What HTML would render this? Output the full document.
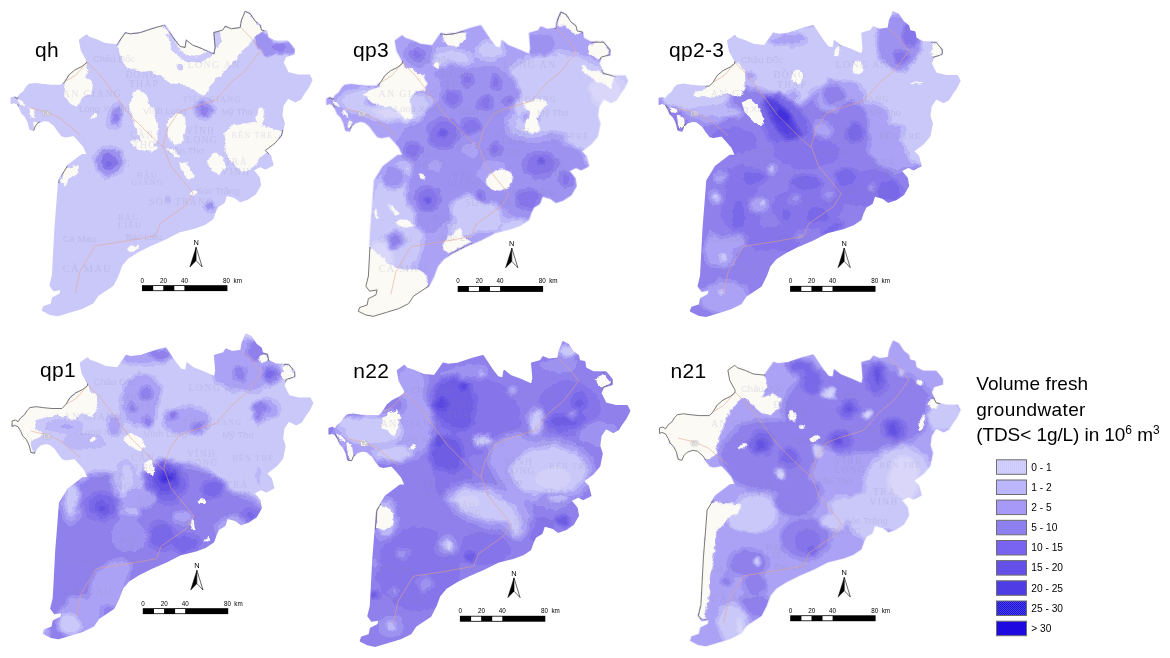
<!DOCTYPE html>
<html><head><meta charset="utf-8"><title>Volume fresh groundwater</title>
<style>html,body{margin:0;padding:0;background:#fff;}svg{display:block;}</style></head>
<body>
<svg width="1170" height="658" viewBox="0 0 1170 658" font-family="'Liberation Sans', sans-serif">
<defs>
<clipPath id="clip"><path d="M11.3,97.9 L14.6,97.0 L17.3,98.7 L20.0,94.7 L23.7,91.9 L26.4,87.4 L29.2,84.6 L35.5,83.7 L41.9,84.6 L51.0,85.5 L61.1,85.5 L64.7,81.9 L69.3,74.6 L74.8,70.0 L82.0,66.4 L86.6,62.7 L87.0,60.2 L81.5,50.2 L79.7,40.1 L86.5,35.1 L89.0,37.6 L96.5,40.1 L105.3,43.9 L116.6,45.1 L125.4,32.6 L130.4,33.9 L140.4,32.6 L155.5,27.6 L165.0,25.1 L170.0,32.6 L175.0,40.1 L180.0,46.4 L185.1,47.6 L186.3,40.1 L192.6,45.1 L202.6,48.9 L213.9,53.9 L215.2,47.6 L213.9,32.6 L222.7,30.1 L225.2,26.3 L231.4,28.8 L240.2,27.6 L241.5,20.1 L245.2,11.3 L250.3,13.8 L255.3,21.3 L260.3,25.1 L261.5,30.1 L266.6,31.3 L267.8,37.6 L275.3,41.4 L287.9,41.4 L294.1,48.9 L294.1,53.9 L285.4,56.4 L282.9,62.7 L287.9,72.7 L297.9,75.2 L309.2,75.2 L311.7,80.2 L307.9,87.8 L304.2,92.8 L300.4,99.0 L295.4,101.6 L287.9,97.8 L282.9,105.3 L281.6,115.3 L284.1,122.9 L281.6,135.4 L275.3,142.9 L265.3,150.5 L270.3,155.5 L272.8,165.0 L265.3,168.8 L260.3,166.3 L252.8,170.0 L259.0,177.5 L260.3,185.1 L255.3,193.8 L247.7,198.9 L240.2,201.4 L235.2,197.6 L226.4,195.1 L223.9,202.6 L217.7,206.4 L215.2,211.4 L212.6,218.9 L205.1,223.9 L195.1,227.7 L180.0,231.4 L165.0,239.0 L150.5,245.2 L137.9,251.5 L127.9,257.8 L121.6,265.3 L117.9,275.3 L112.8,285.4 L105.3,290.4 L97.8,295.4 L92.8,302.9 L82.7,307.9 L70.2,311.7 L57.7,315.5 L50.2,314.2 L42.6,310.4 L43.9,306.7 L51.4,304.2 L52.7,297.9 L60.2,294.1 L61.4,289.1 L53.9,290.4 L50.2,285.4 L52.7,275.3 L53.9,252.8 L55.2,227.7 L57.2,202.6 L58.9,180.0 L62.0,174.9 L67.5,165.8 L74.8,160.3 L82.0,154.8 L87.5,154.8 L83.9,146.6 L78.4,140.2 L73.8,135.1 L65.6,136.6 L62.0,135.7 L58.3,131.1 L54.7,125.7 L49.2,121.1 L44.7,120.2 L39.2,122.0 L35.5,125.7 L33.7,130.2 L30.1,129.3 L28.2,122.0 L25.5,116.5 L21.9,112.9 L20.0,108.3 L17.3,103.8 L13.7,102.3 L11.3,103.4Z"/></clipPath>
<mask id="mk" maskUnits="userSpaceOnUse" x="-10" y="-10" width="350" height="350"><path d="M11.3,97.9 L14.6,97.0 L17.3,98.7 L20.0,94.7 L23.7,91.9 L26.4,87.4 L29.2,84.6 L35.5,83.7 L41.9,84.6 L51.0,85.5 L61.1,85.5 L64.7,81.9 L69.3,74.6 L74.8,70.0 L82.0,66.4 L86.6,62.7 L87.0,60.2 L81.5,50.2 L79.7,40.1 L86.5,35.1 L89.0,37.6 L96.5,40.1 L105.3,43.9 L116.6,45.1 L125.4,32.6 L130.4,33.9 L140.4,32.6 L155.5,27.6 L165.0,25.1 L170.0,32.6 L175.0,40.1 L180.0,46.4 L185.1,47.6 L186.3,40.1 L192.6,45.1 L202.6,48.9 L213.9,53.9 L215.2,47.6 L213.9,32.6 L222.7,30.1 L225.2,26.3 L231.4,28.8 L240.2,27.6 L241.5,20.1 L245.2,11.3 L250.3,13.8 L255.3,21.3 L260.3,25.1 L261.5,30.1 L266.6,31.3 L267.8,37.6 L275.3,41.4 L287.9,41.4 L294.1,48.9 L294.1,53.9 L285.4,56.4 L282.9,62.7 L287.9,72.7 L297.9,75.2 L309.2,75.2 L311.7,80.2 L307.9,87.8 L304.2,92.8 L300.4,99.0 L295.4,101.6 L287.9,97.8 L282.9,105.3 L281.6,115.3 L284.1,122.9 L281.6,135.4 L275.3,142.9 L265.3,150.5 L270.3,155.5 L272.8,165.0 L265.3,168.8 L260.3,166.3 L252.8,170.0 L259.0,177.5 L260.3,185.1 L255.3,193.8 L247.7,198.9 L240.2,201.4 L235.2,197.6 L226.4,195.1 L223.9,202.6 L217.7,206.4 L215.2,211.4 L212.6,218.9 L205.1,223.9 L195.1,227.7 L180.0,231.4 L165.0,239.0 L150.5,245.2 L137.9,251.5 L127.9,257.8 L121.6,265.3 L117.9,275.3 L112.8,285.4 L105.3,290.4 L97.8,295.4 L92.8,302.9 L82.7,307.9 L70.2,311.7 L57.7,315.5 L50.2,314.2 L42.6,310.4 L43.9,306.7 L51.4,304.2 L52.7,297.9 L60.2,294.1 L61.4,289.1 L53.9,290.4 L50.2,285.4 L52.7,275.3 L53.9,252.8 L55.2,227.7 L57.2,202.6 L58.9,180.0 L62.0,174.9 L67.5,165.8 L74.8,160.3 L82.0,154.8 L87.5,154.8 L83.9,146.6 L78.4,140.2 L73.8,135.1 L65.6,136.6 L62.0,135.7 L58.3,131.1 L54.7,125.7 L49.2,121.1 L44.7,120.2 L39.2,122.0 L35.5,125.7 L33.7,130.2 L30.1,129.3 L28.2,122.0 L25.5,116.5 L21.9,112.9 L20.0,108.3 L17.3,103.8 L13.7,102.3 L11.3,103.4Z" fill="#fff" stroke="#fff" stroke-width="1.6" stroke-linejoin="round"/></mask>
<filter id="b0.5" filterUnits="userSpaceOnUse" x="-20" y="-20" width="370" height="370" color-interpolation-filters="sRGB"><feGaussianBlur stdDeviation="0.5"/></filter>
<filter id="b1" filterUnits="userSpaceOnUse" x="-20" y="-20" width="370" height="370" color-interpolation-filters="sRGB"><feGaussianBlur stdDeviation="1"/></filter>
<filter id="b1.5" filterUnits="userSpaceOnUse" x="-20" y="-20" width="370" height="370" color-interpolation-filters="sRGB"><feGaussianBlur stdDeviation="1.5"/></filter>
<filter id="b2" filterUnits="userSpaceOnUse" x="-20" y="-20" width="370" height="370" color-interpolation-filters="sRGB"><feGaussianBlur stdDeviation="2"/></filter>
<filter id="b2.5" filterUnits="userSpaceOnUse" x="-20" y="-20" width="370" height="370" color-interpolation-filters="sRGB"><feGaussianBlur stdDeviation="2.5"/></filter>
<filter id="b3" filterUnits="userSpaceOnUse" x="-20" y="-20" width="370" height="370" color-interpolation-filters="sRGB"><feGaussianBlur stdDeviation="3"/></filter>
<filter id="b4" filterUnits="userSpaceOnUse" x="-20" y="-20" width="370" height="370" color-interpolation-filters="sRGB"><feGaussianBlur stdDeviation="4"/></filter>
<filter id="b5" filterUnits="userSpaceOnUse" x="-20" y="-20" width="370" height="370" color-interpolation-filters="sRGB"><feGaussianBlur stdDeviation="5"/></filter>
<filter id="b6" filterUnits="userSpaceOnUse" x="-20" y="-20" width="370" height="370" color-interpolation-filters="sRGB"><feGaussianBlur stdDeviation="6"/></filter>
<filter id="b8" filterUnits="userSpaceOnUse" x="-20" y="-20" width="370" height="370" color-interpolation-filters="sRGB"><feGaussianBlur stdDeviation="8"/></filter>
<filter id="b10" filterUnits="userSpaceOnUse" x="-20" y="-20" width="370" height="370" color-interpolation-filters="sRGB"><feGaussianBlur stdDeviation="10"/></filter>
<filter id="post" filterUnits="userSpaceOnUse" x="0" y="0" width="330" height="330" color-interpolation-filters="sRGB"><feTurbulence type="fractalNoise" baseFrequency="0.09" numOctaves="3" seed="3" result="n"/><feDisplacementMap in="SourceGraphic" in2="n" scale="7" xChannelSelector="R" yChannelSelector="G" result="d"/><feComponentTransfer in="d"><feFuncR type="discrete" tableValues="0.851 0.824 0.796 0.741 0.675 0.616 0.561 0.522 0.478 0.439 0.396 0.357 0.322 0.286 0.251 0.208 0.165 0.133"/><feFuncG type="discrete" tableValues="0.843 0.816 0.788 0.722 0.639 0.573 0.502 0.455 0.408 0.369 0.325 0.286 0.251 0.220 0.188 0.153 0.118 0.086"/><feFuncB type="discrete" tableValues="0.984 0.980 0.976 0.973 0.961 0.945 0.925 0.918 0.906 0.898 0.890 0.882 0.875 0.867 0.863 0.855 0.847 0.831"/></feComponentTransfer></filter>
<filter id="jag" filterUnits="userSpaceOnUse" x="0" y="0" width="330" height="330" color-interpolation-filters="sRGB"><feTurbulence type="fractalNoise" baseFrequency="0.15" numOctaves="3" seed="7" result="n"/><feDisplacementMap in="SourceGraphic" in2="n" scale="5" xChannelSelector="R" yChannelSelector="G"/></filter>
<pattern id="dots" width="2" height="2" patternUnits="userSpaceOnUse"><rect width="2" height="2" fill="#4a40e6"/><rect width="1" height="1" fill="#1c14d8"/><rect x="1" y="1" width="1" height="1" fill="#1c14d8"/></pattern>
<pattern id="vs" width="2" height="2" patternUnits="userSpaceOnUse"><rect width="2" height="2" fill="#d4d1fc"/><rect width="1" height="2" fill="#cbc8fb"/></pattern>
</defs>
<g transform="translate(0,0)">
<path d="M11.3,97.9 L14.6,97.0 L17.3,98.7 L20.0,94.7 L23.7,91.9 L26.4,87.4 L29.2,84.6 L35.5,83.7 L41.9,84.6 L51.0,85.5 L61.1,85.5 L64.7,81.9 L69.3,74.6 L74.8,70.0 L82.0,66.4 L86.6,62.7 L87.0,60.2 L81.5,50.2 L79.7,40.1 L86.5,35.1 L89.0,37.6 L96.5,40.1 L105.3,43.9 L116.6,45.1 L125.4,32.6 L130.4,33.9 L140.4,32.6 L155.5,27.6 L165.0,25.1 L170.0,32.6 L175.0,40.1 L180.0,46.4 L185.1,47.6 L186.3,40.1 L192.6,45.1 L202.6,48.9 L213.9,53.9 L215.2,47.6 L213.9,32.6 L222.7,30.1 L225.2,26.3 L231.4,28.8 L240.2,27.6 L241.5,20.1 L245.2,11.3 L250.3,13.8 L255.3,21.3 L260.3,25.1 L261.5,30.1 L266.6,31.3 L267.8,37.6 L275.3,41.4 L287.9,41.4 L294.1,48.9 L294.1,53.9 L285.4,56.4 L282.9,62.7 L287.9,72.7 L297.9,75.2 L309.2,75.2 L311.7,80.2 L307.9,87.8 L304.2,92.8 L300.4,99.0 L295.4,101.6 L287.9,97.8 L282.9,105.3 L281.6,115.3 L284.1,122.9 L281.6,135.4 L275.3,142.9 L265.3,150.5 L270.3,155.5 L272.8,165.0 L265.3,168.8 L260.3,166.3 L252.8,170.0 L259.0,177.5 L260.3,185.1 L255.3,193.8 L247.7,198.9 L240.2,201.4 L235.2,197.6 L226.4,195.1 L223.9,202.6 L217.7,206.4 L215.2,211.4 L212.6,218.9 L205.1,223.9 L195.1,227.7 L180.0,231.4 L165.0,239.0 L150.5,245.2 L137.9,251.5 L127.9,257.8 L121.6,265.3 L117.9,275.3 L112.8,285.4 L105.3,290.4 L97.8,295.4 L92.8,302.9 L82.7,307.9 L70.2,311.7 L57.7,315.5 L50.2,314.2 L42.6,310.4 L43.9,306.7 L51.4,304.2 L52.7,297.9 L60.2,294.1 L61.4,289.1 L53.9,290.4 L50.2,285.4 L52.7,275.3 L53.9,252.8 L55.2,227.7 L57.2,202.6 L58.9,180.0 L62.0,174.9 L67.5,165.8 L74.8,160.3 L82.0,154.8 L87.5,154.8 L83.9,146.6 L78.4,140.2 L73.8,135.1 L65.6,136.6 L62.0,135.7 L58.3,131.1 L54.7,125.7 L49.2,121.1 L44.7,120.2 L39.2,122.0 L35.5,125.7 L33.7,130.2 L30.1,129.3 L28.2,122.0 L25.5,116.5 L21.9,112.9 L20.0,108.3 L17.3,103.8 L13.7,102.3 L11.3,103.4Z" fill="#fbfaf5" stroke="none"/>
<g mask="url(#mk)">
<g filter="url(#post)">
<g fill="rgb(35,35,35)">
<path d="M0.0,0.0 L330.0,0.0 L330.0,330.0 L0.0,330.0Z"/>
</g>
<g fill="rgb(50,50,50)" filter="url(#b1.5)">
<ellipse cx="205" cy="109" rx="12" ry="12"/>
<ellipse cx="115" cy="116" rx="9" ry="15" transform="rotate(15 115 116)"/>
<ellipse cx="109" cy="162" rx="17" ry="17"/>
<ellipse cx="210" cy="206" rx="7" ry="7"/>
<ellipse cx="168" cy="199" rx="4" ry="4"/>
</g>
<g fill="rgb(78,78,78)" filter="url(#b1)">
<path d="M255.5,35.1 L260.9,33.0 L267.2,34.0 L272.6,39.4 L274.7,42.6 L281.1,42.6 L289.6,41.0 L294.9,51.1 L290.6,55.3 L285.3,53.2 L276.8,54.3 L270.4,56.4 L264.0,57.4 L259.8,51.1 L255.5,44.7Z"/>
<ellipse cx="205" cy="110" rx="8" ry="8"/>
<ellipse cx="116" cy="117" rx="5" ry="10" transform="rotate(15 116 117)"/>
<ellipse cx="109" cy="162" rx="13" ry="13"/>
<ellipse cx="210" cy="206" rx="4" ry="4"/>
</g>
<g fill="rgb(92,92,92)" filter="url(#b1)">
<ellipse cx="278" cy="47" rx="7" ry="4"/>
<ellipse cx="205" cy="111" rx="4" ry="4"/>
<ellipse cx="116" cy="118" rx="2.5" ry="5" transform="rotate(15 116 118)"/>
</g>
<g fill="rgb(106,106,106)" filter="url(#b1.2)">
<ellipse cx="109" cy="162" rx="8" ry="8"/>
</g>
<g fill="rgb(120,120,120)" filter="url(#b1)">
<ellipse cx="109" cy="163" rx="3.5" ry="3.5"/>
</g>
</g>
<g fill="#fbfaf5" filter="url(#jag)">
<path d="M117.1,46.5 L124.1,33.9 L141.0,32.4 L162.2,24.8 L169.3,32.4 L176.3,42.3 L184.8,46.5 L187.6,39.5 L194.6,45.1 L205.9,50.8 L215.0,54.2 L215.0,46.5 L210.2,31.6 L222.8,27.6 L239.8,27.6 L245.4,9.9 L255.3,20.3 L262.9,31.0 L253.9,37.2 L248.2,46.5 L239.8,53.6 L234.1,60.6 L225.7,70.5 L217.2,77.6 L210.2,86.0 L204.5,95.9 L194.6,91.7 L183.4,84.6 L169.3,83.2 L162.2,76.2 L152.3,71.9 L138.2,70.5 L126.9,67.7 L121.9,60.6Z"/>
<path d="M132.6,93.1 L138.2,88.9 L146.7,95.9 L153.7,110.0 L158.0,124.1 L157.4,141.0 L150.9,148.1 L141.0,139.6 L134.0,124.1 L130.3,107.2Z"/>
<path d="M169.3,118.5 L176.3,112.8 L184.8,115.7 L186.2,126.9 L183.4,141.0 L174.9,146.7 L167.8,135.4 L166.4,124.1Z"/>
<path d="M224.3,132.6 L234.1,124.1 L253.9,122.7 L270.8,128.3 L282.1,131.2 L279.3,141.0 L270.8,149.5 L259.5,158.0 L253.9,166.4 L242.6,172.1 L234.1,166.4 L225.7,152.3Z"/>
<ellipse cx="260.1" cy="117.1" rx="4.2" ry="9.6" transform="rotate(10 260.1 117.1)"/>
<ellipse cx="94.5" cy="116.2" rx="2.8" ry="2.0" transform="rotate(-20 94.5 116.2)"/>
<path d="M64.9,83.2 L70.0,70.5 L84.6,62.1 L88.6,70.5 L84.6,76.7 L93.1,81.8 L91.7,93.1 L81.8,98.7 L76.2,107.2 L69.1,101.6 L63.5,93.1Z"/>
<path d="M28.2,107.2 L33.9,109.4 L35.5,118.5 L29.9,117.1Z"/>
<path d="M33.3,121.3 L38.9,123.0 L38.1,130.3 L33.9,129.8Z"/>
<path d="M17.5,98.7 L23.1,101.6 L25.4,106.6 L20.3,104.9Z"/>
<path d="M64.3,168.2 L79.0,165.4 L77.6,172.4 L69.1,178.1 L64.3,185.7 L60.6,182.3Z"/>
<path d="M207.3,159.7 L214.4,151.3 L222.8,156.9 L225.7,166.8 L220.0,174.4 L211.6,171.0Z"/>
<path d="M179.1,162.6 L186.2,161.2 L194.6,176.7 L189.0,179.5 L181.9,171.0Z"/>
<path d="M166.4,148.5 L172.1,147.9 L180.5,156.9 L176.3,158.1Z"/>
<ellipse cx="193.5" cy="192.5" rx="2.8" ry="2.0" transform="rotate(0 193.5 192.5)"/>
<path d="M128.3,248.6 L132.0,244.9 L134.8,247.2 L137.7,242.7 L138.8,247.2 L134.0,251.7 L129.2,251.7Z"/>
<path d="M130.3,140.0 L146.7,141.4 L158.0,148.5 L152.3,151.8 L141.0,150.2 L132.6,145.6Z"/>
</g>
<g fill="#cbc9f9" filter="url(#jag)">
<path d="M166.4,33.9 L172.1,33.3 L176.3,45.1 L183.4,53.6 L197.5,56.4 L211.6,49.4 L214.4,55.0 L200.3,62.6 L183.4,60.9 L174.9,53.6 L169.3,45.1Z"/>
<path d="M209.3,32.4 L218.6,29.6 L222.8,39.5 L217.2,48.0 L211.6,45.1Z"/>
<ellipse cx="179.7" cy="67.1" rx="3.4" ry="3.4" transform="rotate(0 179.7 67.1)"/>
</g>
<g fill="none" stroke="#e6a48c" stroke-width="0.8" opacity="0.7">
<path d="M260.8,50.2 L245.7,70.2 L230.7,82.7 L215.6,100.3 L190.6,107.8 L178.0,112.8 L168.0,127.9 L163.0,145.4 L170.5,165.5 L193.1,193.1 L185.6,205.6 L160.5,223.2 L155.5,235.7 L127.9,240.7 L95.3,245.7 L80.2,270.8 L75.2,293.4"/>
<path d="M87.0,62.0 L100.0,75.0 L115.0,95.0 L130.0,115.0 L150.0,135.0 L163.0,147.0"/>
<path d="M30.0,108.0 L47.0,112.0 L60.0,118.0 L80.0,135.0"/>
<path d="M66.0,81.0 L76.0,75.0 L87.0,62.0"/>
<path d="M260.8,50.2 L250.8,37.6 L240.7,27.6"/>
</g>
<rect x="42.6" y="110.3" width="7.4" height="5.6" rx="1.6" fill="#f4f3f4" stroke="#9a98a6" stroke-width="0.6" opacity="0.55"/>
<text x="46.3" y="114.9" font-size="4.6" text-anchor="middle" fill="#777" opacity="0.55">80</text>
<g font-family="'Liberation Serif', serif" fill="#8a86b0" opacity="0.2">
<text x="92.8" y="62.2" font-size="9.5" font-family="'Liberation Sans', sans-serif">Châu Đốc</text>
<text x="125.4" y="77.7" font-size="9.5" letter-spacing="1.3">ĐỒNG</text>
<text x="129" y="87" font-size="9.5" letter-spacing="1.3">THÁP</text>
<text x="187.6" y="67.7" font-size="10" letter-spacing="1.3">LONG AN</text>
<text x="62.7" y="96.5" font-size="10" letter-spacing="1.3">AN GIANG</text>
<text x="79" y="111.6" font-size="9.5" font-family="'Liberation Sans', sans-serif">Long Xuyên</text>
<text x="143" y="114" font-size="9.5" font-family="'Liberation Sans', sans-serif">Vĩnh Long</text>
<text x="182.5" y="101.5" font-size="8" letter-spacing="1.3">TIỀN GIANG</text>
<text x="221.4" y="115.3" font-size="9.5" font-family="'Liberation Sans', sans-serif">Mỹ Tho</text>
<text x="186.3" y="134" font-size="9.5" letter-spacing="1.3">VĨNH</text>
<text x="186.3" y="143" font-size="9.5" letter-spacing="1.3">LONG</text>
<text x="231.4" y="138" font-size="8" letter-spacing="1.3">BẾN TRE</text>
<text x="130.4" y="138" font-size="9.5" letter-spacing="1.3">CẦN</text>
<text x="133" y="148" font-size="9.5" letter-spacing="1.3">THƠ</text>
<text x="167.5" y="154" font-size="9.5" font-family="'Liberation Sans', sans-serif">Cần Thơ</text>
<text x="225" y="165" font-size="9.5" letter-spacing="1.3">TRÀ</text>
<text x="221.4" y="175" font-size="9.5" letter-spacing="1.3">VINH</text>
<text x="97.8" y="156.7" font-size="9.5" letter-spacing="1.3">KIÊN</text>
<text x="94" y="166.5" font-size="9.5" letter-spacing="1.3">GIANG</text>
<text x="136.7" y="177.5" font-size="8" letter-spacing="1.3">HẬU</text>
<text x="131.6" y="185" font-size="8" letter-spacing="1.3">GIANG</text>
<text x="196.3" y="193.8" font-size="9.5" font-family="'Liberation Sans', sans-serif">Sóc Trăng</text>
<text x="149.2" y="205" font-size="9.5" letter-spacing="1.3">SÓC TRĂNG</text>
<text x="117.9" y="220" font-size="8.5" letter-spacing="1.3">BẠC</text>
<text x="117.9" y="228" font-size="8.5" letter-spacing="1.3">LIÊU</text>
<text x="62.7" y="241.5" font-size="9.5" font-family="'Liberation Sans', sans-serif">Cà Mau</text>
<text x="125.4" y="240" font-size="9.5" font-family="'Liberation Sans', sans-serif">Bạc Liêu</text>
<text x="62.7" y="271.5" font-size="10.5" letter-spacing="1.3">CÀ MAU</text>
</g>
</g>
<mask id="om0" maskUnits="userSpaceOnUse" x="-10" y="-10" width="350" height="350"><g fill="#fff" stroke="#fff" stroke-width="3" filter="url(#jag)"><path d="M117.1,46.5 L124.1,33.9 L141.0,32.4 L162.2,24.8 L169.3,32.4 L176.3,42.3 L184.8,46.5 L187.6,39.5 L194.6,45.1 L205.9,50.8 L215.0,54.2 L215.0,46.5 L210.2,31.6 L222.8,27.6 L239.8,27.6 L245.4,9.9 L255.3,20.3 L262.9,31.0 L253.9,37.2 L248.2,46.5 L239.8,53.6 L234.1,60.6 L225.7,70.5 L217.2,77.6 L210.2,86.0 L204.5,95.9 L194.6,91.7 L183.4,84.6 L169.3,83.2 L162.2,76.2 L152.3,71.9 L138.2,70.5 L126.9,67.7 L121.9,60.6Z"/><path d="M132.6,93.1 L138.2,88.9 L146.7,95.9 L153.7,110.0 L158.0,124.1 L157.4,141.0 L150.9,148.1 L141.0,139.6 L134.0,124.1 L130.3,107.2Z"/><path d="M169.3,118.5 L176.3,112.8 L184.8,115.7 L186.2,126.9 L183.4,141.0 L174.9,146.7 L167.8,135.4 L166.4,124.1Z"/><path d="M224.3,132.6 L234.1,124.1 L253.9,122.7 L270.8,128.3 L282.1,131.2 L279.3,141.0 L270.8,149.5 L259.5,158.0 L253.9,166.4 L242.6,172.1 L234.1,166.4 L225.7,152.3Z"/><ellipse cx="260.1" cy="117.1" rx="4.2" ry="9.6" transform="rotate(10 260.1 117.1)"/><ellipse cx="94.5" cy="116.2" rx="2.8" ry="2.0" transform="rotate(-20 94.5 116.2)"/><path d="M64.9,83.2 L70.0,70.5 L84.6,62.1 L88.6,70.5 L84.6,76.7 L93.1,81.8 L91.7,93.1 L81.8,98.7 L76.2,107.2 L69.1,101.6 L63.5,93.1Z"/><path d="M28.2,107.2 L33.9,109.4 L35.5,118.5 L29.9,117.1Z"/><path d="M33.3,121.3 L38.9,123.0 L38.1,130.3 L33.9,129.8Z"/><path d="M17.5,98.7 L23.1,101.6 L25.4,106.6 L20.3,104.9Z"/><path d="M64.3,168.2 L79.0,165.4 L77.6,172.4 L69.1,178.1 L64.3,185.7 L60.6,182.3Z"/><path d="M207.3,159.7 L214.4,151.3 L222.8,156.9 L225.7,166.8 L220.0,174.4 L211.6,171.0Z"/><path d="M179.1,162.6 L186.2,161.2 L194.6,176.7 L189.0,179.5 L181.9,171.0Z"/><path d="M166.4,148.5 L172.1,147.9 L180.5,156.9 L176.3,158.1Z"/><ellipse cx="193.5" cy="192.5" rx="2.8" ry="2.0" transform="rotate(0 193.5 192.5)"/><path d="M128.3,248.6 L132.0,244.9 L134.8,247.2 L137.7,242.7 L138.8,247.2 L134.0,251.7 L129.2,251.7Z"/><path d="M130.3,140.0 L146.7,141.4 L158.0,148.5 L152.3,151.8 L141.0,150.2 L132.6,145.6Z"/></g></mask>
<path d="M11.3,97.9 L14.6,97.0 L17.3,98.7 L20.0,94.7 L23.7,91.9 L26.4,87.4 L29.2,84.6 L35.5,83.7 L41.9,84.6 L51.0,85.5 L61.1,85.5 L64.7,81.9 L69.3,74.6 L74.8,70.0 L82.0,66.4 L86.6,62.7 L87.0,60.2 L81.5,50.2 L79.7,40.1 L86.5,35.1 L89.0,37.6 L96.5,40.1 L105.3,43.9 L116.6,45.1 L125.4,32.6 L130.4,33.9 L140.4,32.6 L155.5,27.6 L165.0,25.1 L170.0,32.6 L175.0,40.1 L180.0,46.4 L185.1,47.6 L186.3,40.1 L192.6,45.1 L202.6,48.9 L213.9,53.9 L215.2,47.6 L213.9,32.6 L222.7,30.1 L225.2,26.3 L231.4,28.8 L240.2,27.6 L241.5,20.1 L245.2,11.3 L250.3,13.8 L255.3,21.3 L260.3,25.1 L261.5,30.1 L266.6,31.3 L267.8,37.6 L275.3,41.4 L287.9,41.4 L294.1,48.9 L294.1,53.9 L285.4,56.4 L282.9,62.7 L287.9,72.7 L297.9,75.2 L309.2,75.2 L311.7,80.2 L307.9,87.8 L304.2,92.8 L300.4,99.0 L295.4,101.6 L287.9,97.8 L282.9,105.3 L281.6,115.3 L284.1,122.9 L281.6,135.4 L275.3,142.9 L265.3,150.5 L270.3,155.5 L272.8,165.0 L265.3,168.8 L260.3,166.3 L252.8,170.0 L259.0,177.5 L260.3,185.1 L255.3,193.8 L247.7,198.9 L240.2,201.4 L235.2,197.6 L226.4,195.1 L223.9,202.6 L217.7,206.4 L215.2,211.4 L212.6,218.9 L205.1,223.9 L195.1,227.7 L180.0,231.4 L165.0,239.0 L150.5,245.2 L137.9,251.5 L127.9,257.8 L121.6,265.3 L117.9,275.3 L112.8,285.4 L105.3,290.4 L97.8,295.4 L92.8,302.9 L82.7,307.9 L70.2,311.7 L57.7,315.5 L50.2,314.2 L42.6,310.4 L43.9,306.7 L51.4,304.2 L52.7,297.9 L60.2,294.1 L61.4,289.1 L53.9,290.4 L50.2,285.4 L52.7,275.3 L53.9,252.8 L55.2,227.7 L57.2,202.6 L58.9,180.0 L62.0,174.9 L67.5,165.8 L74.8,160.3 L82.0,154.8 L87.5,154.8 L83.9,146.6 L78.4,140.2 L73.8,135.1 L65.6,136.6 L62.0,135.7 L58.3,131.1 L54.7,125.7 L49.2,121.1 L44.7,120.2 L39.2,122.0 L35.5,125.7 L33.7,130.2 L30.1,129.3 L28.2,122.0 L25.5,116.5 L21.9,112.9 L20.0,108.3 L17.3,103.8 L13.7,102.3 L11.3,103.4Z" fill="none" stroke="#6a6a6a" stroke-width="0.9" stroke-linejoin="round" mask="url(#om0)"/>
<text x="196.1" y="245" font-size="7.4" text-anchor="middle" fill="#000">N</text>
<path d="M196.1,247.3 L189.9,267 L196.1,260.6Z" fill="#000" stroke="#000" stroke-width="0.5" stroke-linejoin="miter"/>
<path d="M196.1,247.3 L202.2,267 L196.1,260.6Z" fill="#fff" stroke="#000" stroke-width="0.6" stroke-linejoin="miter"/>
<rect x="142" y="285.2" width="85.4" height="5.9" fill="#000"/>
<rect x="153.2" y="286" width="10.1" height="4.3" fill="#fff"/>
<rect x="174.3" y="286" width="10.1" height="4.3" fill="#fff"/>
<g font-size="6.3" text-anchor="middle" fill="#000">
<text x="142.3" y="282.5">0</text>
<text x="163.5" y="282.5">20</text>
<text x="184.4" y="282.5">40</text>
<text x="226.6" y="282.5">80</text>
<text x="237.7" y="282.5">km</text>
</g>
<text x="35" y="57.4" font-size="21" letter-spacing="0.3" fill="#000">qh</text>
</g>
<g transform="translate(315.7,0.8)">
<path d="M11.3,97.9 L14.6,97.0 L17.3,98.7 L20.0,94.7 L23.7,91.9 L26.4,87.4 L29.2,84.6 L35.5,83.7 L41.9,84.6 L51.0,85.5 L61.1,85.5 L64.7,81.9 L69.3,74.6 L74.8,70.0 L82.0,66.4 L86.6,62.7 L87.0,60.2 L81.5,50.2 L79.7,40.1 L86.5,35.1 L89.0,37.6 L96.5,40.1 L105.3,43.9 L116.6,45.1 L125.4,32.6 L130.4,33.9 L140.4,32.6 L155.5,27.6 L165.0,25.1 L170.0,32.6 L175.0,40.1 L180.0,46.4 L185.1,47.6 L186.3,40.1 L192.6,45.1 L202.6,48.9 L213.9,53.9 L215.2,47.6 L213.9,32.6 L222.7,30.1 L225.2,26.3 L231.4,28.8 L240.2,27.6 L241.5,20.1 L245.2,11.3 L250.3,13.8 L255.3,21.3 L260.3,25.1 L261.5,30.1 L266.6,31.3 L267.8,37.6 L275.3,41.4 L287.9,41.4 L294.1,48.9 L294.1,53.9 L285.4,56.4 L282.9,62.7 L287.9,72.7 L297.9,75.2 L309.2,75.2 L311.7,80.2 L307.9,87.8 L304.2,92.8 L300.4,99.0 L295.4,101.6 L287.9,97.8 L282.9,105.3 L281.6,115.3 L284.1,122.9 L281.6,135.4 L275.3,142.9 L265.3,150.5 L270.3,155.5 L272.8,165.0 L265.3,168.8 L260.3,166.3 L252.8,170.0 L259.0,177.5 L260.3,185.1 L255.3,193.8 L247.7,198.9 L240.2,201.4 L235.2,197.6 L226.4,195.1 L223.9,202.6 L217.7,206.4 L215.2,211.4 L212.6,218.9 L205.1,223.9 L195.1,227.7 L180.0,231.4 L165.0,239.0 L150.5,245.2 L137.9,251.5 L127.9,257.8 L121.6,265.3 L117.9,275.3 L112.8,285.4 L105.3,290.4 L97.8,295.4 L92.8,302.9 L82.7,307.9 L70.2,311.7 L57.7,315.5 L50.2,314.2 L42.6,310.4 L43.9,306.7 L51.4,304.2 L52.7,297.9 L60.2,294.1 L61.4,289.1 L53.9,290.4 L50.2,285.4 L52.7,275.3 L53.9,252.8 L55.2,227.7 L57.2,202.6 L58.9,180.0 L62.0,174.9 L67.5,165.8 L74.8,160.3 L82.0,154.8 L87.5,154.8 L83.9,146.6 L78.4,140.2 L73.8,135.1 L65.6,136.6 L62.0,135.7 L58.3,131.1 L54.7,125.7 L49.2,121.1 L44.7,120.2 L39.2,122.0 L35.5,125.7 L33.7,130.2 L30.1,129.3 L28.2,122.0 L25.5,116.5 L21.9,112.9 L20.0,108.3 L17.3,103.8 L13.7,102.3 L11.3,103.4Z" fill="#fbfaf5" stroke="none"/>
<g mask="url(#mk)">
<g filter="url(#post)">
<g fill="rgb(64,64,64)">
<path d="M0.0,0.0 L330.0,0.0 L330.0,330.0 L0.0,330.0Z"/>
</g>
<g fill="rgb(35,35,35)" filter="url(#b3)">
<ellipse cx="72.0" cy="103.5" rx="50.2" ry="15.0" transform="rotate(5 72.0 103.5)"/>
<ellipse cx="79.5" cy="224.9" rx="29.1" ry="62.7" transform="rotate(5 79.5 224.9)"/>
<ellipse cx="245.0" cy="92.0" rx="57.7" ry="40.1" transform="rotate(10 245.0 92.0)"/>
<ellipse cx="135.7" cy="58.4" rx="20.1" ry="11.0" transform="rotate(0 135.7 58.4)"/>
<ellipse cx="277.6" cy="124.6" rx="25.1" ry="30.1" transform="rotate(0 277.6 124.6)"/>
<ellipse cx="265.1" cy="149.7" rx="20.1" ry="15.0" transform="rotate(0 265.1 149.7)"/>
<ellipse cx="202.4" cy="232.4" rx="20.1" ry="15.0" transform="rotate(0 202.4 232.4)"/>
<ellipse cx="214.9" cy="124.6" rx="20.1" ry="10.0" transform="rotate(0 214.9 124.6)"/>
<ellipse cx="174.8" cy="49.4" rx="15.0" ry="9.0" transform="rotate(0 174.8 49.4)"/>
<ellipse cx="300.2" cy="84.5" rx="15.0" ry="20.1" transform="rotate(0 300.2 84.5)"/>
</g>
<g fill="rgb(7,7,7)" filter="url(#b2.5)">
<ellipse cx="290.2" cy="89.5" rx="17.6" ry="14.0" transform="rotate(0 290.2 89.5)"/>
<ellipse cx="79.5" cy="113.5" rx="22.6" ry="5.0" transform="rotate(8 79.5 113.5)"/>
<ellipse cx="64.5" cy="260.0" rx="12.5" ry="20.1" transform="rotate(0 64.5 260.0)"/>
</g>
<g fill="rgb(78,78,78)" filter="url(#b2.5)">
<path d="M117.1,69.4 L134.7,61.9 L154.8,66.9 L177.3,64.4 L197.4,74.4 L204.9,92.0 L199.9,107.0 L189.9,117.1 L187.3,129.6 L199.9,139.6 L219.9,142.1 L245.0,139.6 L267.6,149.7 L272.6,169.7 L260.1,184.8 L265.1,197.3 L245.0,204.8 L225.0,204.8 L214.9,219.9 L194.9,214.8 L179.8,199.8 L164.8,204.8 L149.7,194.8 L144.7,209.8 L129.7,222.4 L109.6,219.9 L92.1,204.8 L89.6,179.7 L99.6,164.7 L84.5,154.7 L79.5,139.6 L89.6,127.1 L104.6,119.6 L112.1,107.0 L122.2,99.5 L124.7,84.5Z"/>
<ellipse cx="102.1" cy="53.4" rx="15.0" ry="13.0" transform="rotate(0 102.1 53.4)"/>
<ellipse cx="225.0" cy="44.3" rx="16.0" ry="11.0" transform="rotate(0 225.0 44.3)"/>
<ellipse cx="79.5" cy="238.9" rx="10.0" ry="9.0" transform="rotate(0 79.5 238.9)"/>
<ellipse cx="59.5" cy="99.5" rx="10.0" ry="5.0" transform="rotate(0 59.5 99.5)"/>
<ellipse cx="169.8" cy="227.4" rx="12.5" ry="7.0" transform="rotate(0 169.8 227.4)"/>
<ellipse cx="295.2" cy="59.4" rx="10.0" ry="7.0" transform="rotate(0 295.2 59.4)"/>
</g>
<g fill="rgb(35,35,35)" filter="url(#b2.5)">
<ellipse cx="161.1" cy="213.6" rx="26.8" ry="16.9" transform="rotate(20 161.1 213.6)"/>
<ellipse cx="147.0" cy="229.1" rx="14.1" ry="8.5" transform="rotate(0 147.0 229.1)"/>
</g>
<g fill="rgb(78,78,78)" filter="url(#b2)">
<ellipse cx="77.9" cy="175.5" rx="11.8" ry="11.8" transform="rotate(0 77.9 175.5)"/>
<ellipse cx="113.1" cy="217.8" rx="14.1" ry="15.5" transform="rotate(0 113.1 217.8)"/>
<ellipse cx="169.6" cy="195.2" rx="8.5" ry="7.9" transform="rotate(0 169.6 195.2)"/>
</g>
<g fill="rgb(64,64,64)" filter="url(#b2)">
<ellipse cx="177.3" cy="172.2" rx="16.0" ry="11.0" transform="rotate(0 177.3 172.2)"/>
<ellipse cx="154.8" cy="149.7" rx="9.0" ry="7.0" transform="rotate(0 154.8 149.7)"/>
<ellipse cx="214.9" cy="117.1" rx="10.0" ry="6.0" transform="rotate(0 214.9 117.1)"/>
<ellipse cx="119.6" cy="164.7" rx="7.5" ry="6.0" transform="rotate(0 119.6 164.7)"/>
</g>
<g fill="rgb(106,106,106)" filter="url(#b2.5)">
<ellipse cx="127.2" cy="133.6" rx="15.0" ry="16.0" transform="rotate(0 127.2 133.6)"/>
<ellipse cx="154.8" cy="125.6" rx="10.0" ry="9.0" transform="rotate(0 154.8 125.6)"/>
<ellipse cx="152.2" cy="79.4" rx="7.0" ry="6.5" transform="rotate(0 152.2 79.4)"/>
<ellipse cx="179.8" cy="81.9" rx="7.0" ry="6.5" transform="rotate(0 179.8 81.9)"/>
<ellipse cx="137.2" cy="97.5" rx="9.0" ry="8.5" transform="rotate(0 137.2 97.5)"/>
<ellipse cx="169.8" cy="102.0" rx="8.0" ry="7.0" transform="rotate(0 169.8 102.0)"/>
<ellipse cx="192.4" cy="99.5" rx="5.0" ry="5.0" transform="rotate(0 192.4 99.5)"/>
<ellipse cx="112.1" cy="198.3" rx="12.0" ry="13.0" transform="rotate(0 112.1 198.3)"/>
<ellipse cx="225.0" cy="163.7" rx="17.1" ry="13.0" transform="rotate(0 225.0 163.7)"/>
<ellipse cx="212.4" cy="198.8" rx="12.0" ry="10.0" transform="rotate(0 212.4 198.8)"/>
<ellipse cx="250.0" cy="178.7" rx="7.0" ry="7.0" transform="rotate(0 250.0 178.7)"/>
<ellipse cx="164.8" cy="194.8" rx="6.0" ry="5.5" transform="rotate(0 164.8 194.8)"/>
<ellipse cx="179.8" cy="148.6" rx="7.0" ry="7.0" transform="rotate(0 179.8 148.6)"/>
<ellipse cx="97.1" cy="149.7" rx="8.0" ry="9.0" transform="rotate(0 97.1 149.7)"/>
<ellipse cx="102.1" cy="53.4" rx="7.0" ry="6.0" transform="rotate(0 102.1 53.4)"/>
<ellipse cx="79.5" cy="239.9" rx="4.5" ry="4.0" transform="rotate(0 79.5 239.9)"/>
</g>
<g fill="rgb(135,135,135)" filter="url(#b1.5)">
<ellipse cx="127.2" cy="132.1" rx="5.0" ry="6.0" transform="rotate(0 127.2 132.1)"/>
<ellipse cx="225.0" cy="160.7" rx="5.0" ry="4.0" transform="rotate(0 225.0 160.7)"/>
<ellipse cx="112.1" cy="199.8" rx="4.0" ry="4.0" transform="rotate(0 112.1 199.8)"/>
</g>
</g>
<g fill="#fbfaf5" filter="url(#jag)">
<path d="M63.5,75.7 L73.5,66.9 L86.1,61.4 L91.1,66.4 L99.3,70.7 L108.1,74.4 L111.9,81.9 L108.1,89.5 L100.6,90.7 L95.6,95.7 L88.1,99.5 L83.0,98.2 L78.0,104.5 L73.0,99.5 L68.0,94.5 L63.0,92.0 L64.2,84.5Z"/>
<ellipse cx="94.3" cy="115.8" rx="3.0" ry="2.3" transform="rotate(-20 94.3 115.8)"/>
<ellipse cx="120.7" cy="63.9" rx="2.8" ry="2.8" transform="rotate(0 120.7 63.9)"/>
<path d="M48.3,92.3 L65.2,86.6 L93.4,92.3 L96.2,112.0 L90.6,117.7 L76.5,106.4 L56.7,103.6Z"/>
<path d="M125.7,34.3 L130.7,33.6 L140.7,32.3 L150.8,31.8 L148.2,40.6 L140.7,45.6 L133.2,44.3 L126.9,39.3Z"/>
<path d="M25.4,109.5 L31.6,112.0 L32.9,117.1 L27.4,115.0Z"/>
<path d="M32.9,119.6 L36.7,120.8 L35.4,127.1 L31.6,127.1Z"/>
<path d="M15.8,98.2 L21.6,102.0 L24.1,107.0 L19.1,104.5Z"/>
<path d="M245.5,10.5 L250.6,13.0 L260.6,24.3 L266.1,31.3 L261.8,34.8 L253.1,29.3 L248.0,24.3 L241.8,27.3Z"/>
<path d="M273.1,44.3 L288.2,40.6 L294.4,49.4 L290.7,56.9 L280.6,57.4 L273.1,52.4Z"/>
<path d="M265.6,63.9 L275.6,68.9 L285.7,71.9 L298.2,76.9 L295.7,87.5 L285.7,83.2 L275.6,77.4 L268.1,71.9Z"/>
<path d="M206.7,100.8 L215.5,99.5 L230.5,98.2 L231.0,104.5 L225.5,109.5 L221.7,117.1 L223.5,129.6 L215.5,132.6 L207.9,129.6 L210.4,119.6 L214.2,112.0 L209.2,107.0Z"/>
<ellipse cx="184.1" cy="179.2" rx="13.8" ry="10.5" transform="rotate(-10 184.1 179.2)"/>
<path d="M50.5,246.9 L58.0,249.5 L68.0,258.2 L75.5,264.5 L88.1,269.5 L100.6,268.3 L108.1,270.8 L113.1,282.6 L100.6,304.6 L75.5,322.2 L37.9,317.2 L47.9,284.6Z"/>
<path d="M127.2,240.4 L135.7,234.7 L144.2,226.8 L148.4,234.7 L154.9,241.8 L132.9,252.8 L128.6,248.8Z"/>
<path d="M71.8,204.3 L75.5,204.8 L83.0,213.1 L80.0,214.4Z"/>
<path d="M79.3,220.6 L88.1,217.4 L99.3,224.4 L90.6,226.9 L83.0,225.6Z"/>
<path d="M58.0,209.3 L60.5,209.8 L63.5,218.1 L60.0,216.9Z"/>
<ellipse cx="106.1" cy="175.5" rx="3.5" ry="2.3" transform="rotate(35 106.1 175.5)"/>
</g>
<g fill="none" stroke="#e6a48c" stroke-width="0.8" opacity="0.7">
<path d="M260.8,50.2 L245.7,70.2 L230.7,82.7 L215.6,100.3 L190.6,107.8 L178.0,112.8 L168.0,127.9 L163.0,145.4 L170.5,165.5 L193.1,193.1 L185.6,205.6 L160.5,223.2 L155.5,235.7 L127.9,240.7 L95.3,245.7 L80.2,270.8 L75.2,293.4"/>
<path d="M87.0,62.0 L100.0,75.0 L115.0,95.0 L130.0,115.0 L150.0,135.0 L163.0,147.0"/>
<path d="M30.0,108.0 L47.0,112.0 L60.0,118.0 L80.0,135.0"/>
<path d="M66.0,81.0 L76.0,75.0 L87.0,62.0"/>
<path d="M260.8,50.2 L250.8,37.6 L240.7,27.6"/>
</g>
<rect x="42.6" y="110.3" width="7.4" height="5.6" rx="1.6" fill="#f4f3f4" stroke="#9a98a6" stroke-width="0.6" opacity="0.55"/>
<text x="46.3" y="114.9" font-size="4.6" text-anchor="middle" fill="#777" opacity="0.55">80</text>
<g font-family="'Liberation Serif', serif" fill="#8a86b0" opacity="0.2">
<text x="92.8" y="62.2" font-size="9.5" font-family="'Liberation Sans', sans-serif">Châu Đốc</text>
<text x="125.4" y="77.7" font-size="9.5" letter-spacing="1.3">ĐỒNG</text>
<text x="129" y="87" font-size="9.5" letter-spacing="1.3">THÁP</text>
<text x="187.6" y="67.7" font-size="10" letter-spacing="1.3">LONG AN</text>
<text x="62.7" y="96.5" font-size="10" letter-spacing="1.3">AN GIANG</text>
<text x="79" y="111.6" font-size="9.5" font-family="'Liberation Sans', sans-serif">Long Xuyên</text>
<text x="143" y="114" font-size="9.5" font-family="'Liberation Sans', sans-serif">Vĩnh Long</text>
<text x="182.5" y="101.5" font-size="8" letter-spacing="1.3">TIỀN GIANG</text>
<text x="221.4" y="115.3" font-size="9.5" font-family="'Liberation Sans', sans-serif">Mỹ Tho</text>
<text x="186.3" y="134" font-size="9.5" letter-spacing="1.3">VĨNH</text>
<text x="186.3" y="143" font-size="9.5" letter-spacing="1.3">LONG</text>
<text x="231.4" y="138" font-size="8" letter-spacing="1.3">BẾN TRE</text>
<text x="130.4" y="138" font-size="9.5" letter-spacing="1.3">CẦN</text>
<text x="133" y="148" font-size="9.5" letter-spacing="1.3">THƠ</text>
<text x="167.5" y="154" font-size="9.5" font-family="'Liberation Sans', sans-serif">Cần Thơ</text>
<text x="225" y="165" font-size="9.5" letter-spacing="1.3">TRÀ</text>
<text x="221.4" y="175" font-size="9.5" letter-spacing="1.3">VINH</text>
<text x="97.8" y="156.7" font-size="9.5" letter-spacing="1.3">KIÊN</text>
<text x="94" y="166.5" font-size="9.5" letter-spacing="1.3">GIANG</text>
<text x="136.7" y="177.5" font-size="8" letter-spacing="1.3">HẬU</text>
<text x="131.6" y="185" font-size="8" letter-spacing="1.3">GIANG</text>
<text x="196.3" y="193.8" font-size="9.5" font-family="'Liberation Sans', sans-serif">Sóc Trăng</text>
<text x="149.2" y="205" font-size="9.5" letter-spacing="1.3">SÓC TRĂNG</text>
<text x="117.9" y="220" font-size="8.5" letter-spacing="1.3">BẠC</text>
<text x="117.9" y="228" font-size="8.5" letter-spacing="1.3">LIÊU</text>
<text x="62.7" y="241.5" font-size="9.5" font-family="'Liberation Sans', sans-serif">Cà Mau</text>
<text x="125.4" y="240" font-size="9.5" font-family="'Liberation Sans', sans-serif">Bạc Liêu</text>
<text x="62.7" y="271.5" font-size="10.5" letter-spacing="1.3">CÀ MAU</text>
</g>
</g>
<mask id="om1" maskUnits="userSpaceOnUse" x="-10" y="-10" width="350" height="350"><g fill="#fff" stroke="#fff" stroke-width="3" filter="url(#jag)"><path d="M63.5,75.7 L73.5,66.9 L86.1,61.4 L91.1,66.4 L99.3,70.7 L108.1,74.4 L111.9,81.9 L108.1,89.5 L100.6,90.7 L95.6,95.7 L88.1,99.5 L83.0,98.2 L78.0,104.5 L73.0,99.5 L68.0,94.5 L63.0,92.0 L64.2,84.5Z"/><ellipse cx="94.3" cy="115.8" rx="3.0" ry="2.3" transform="rotate(-20 94.3 115.8)"/><ellipse cx="120.7" cy="63.9" rx="2.8" ry="2.8" transform="rotate(0 120.7 63.9)"/><path d="M48.3,92.3 L65.2,86.6 L93.4,92.3 L96.2,112.0 L90.6,117.7 L76.5,106.4 L56.7,103.6Z"/><path d="M125.7,34.3 L130.7,33.6 L140.7,32.3 L150.8,31.8 L148.2,40.6 L140.7,45.6 L133.2,44.3 L126.9,39.3Z"/><path d="M25.4,109.5 L31.6,112.0 L32.9,117.1 L27.4,115.0Z"/><path d="M32.9,119.6 L36.7,120.8 L35.4,127.1 L31.6,127.1Z"/><path d="M15.8,98.2 L21.6,102.0 L24.1,107.0 L19.1,104.5Z"/><path d="M245.5,10.5 L250.6,13.0 L260.6,24.3 L266.1,31.3 L261.8,34.8 L253.1,29.3 L248.0,24.3 L241.8,27.3Z"/><path d="M273.1,44.3 L288.2,40.6 L294.4,49.4 L290.7,56.9 L280.6,57.4 L273.1,52.4Z"/><path d="M265.6,63.9 L275.6,68.9 L285.7,71.9 L298.2,76.9 L295.7,87.5 L285.7,83.2 L275.6,77.4 L268.1,71.9Z"/><path d="M206.7,100.8 L215.5,99.5 L230.5,98.2 L231.0,104.5 L225.5,109.5 L221.7,117.1 L223.5,129.6 L215.5,132.6 L207.9,129.6 L210.4,119.6 L214.2,112.0 L209.2,107.0Z"/><ellipse cx="184.1" cy="179.2" rx="13.8" ry="10.5" transform="rotate(-10 184.1 179.2)"/><path d="M50.5,246.9 L58.0,249.5 L68.0,258.2 L75.5,264.5 L88.1,269.5 L100.6,268.3 L108.1,270.8 L113.1,282.6 L100.6,304.6 L75.5,322.2 L37.9,317.2 L47.9,284.6Z"/><path d="M127.2,240.4 L135.7,234.7 L144.2,226.8 L148.4,234.7 L154.9,241.8 L132.9,252.8 L128.6,248.8Z"/><path d="M71.8,204.3 L75.5,204.8 L83.0,213.1 L80.0,214.4Z"/><path d="M79.3,220.6 L88.1,217.4 L99.3,224.4 L90.6,226.9 L83.0,225.6Z"/><path d="M58.0,209.3 L60.5,209.8 L63.5,218.1 L60.0,216.9Z"/><ellipse cx="106.1" cy="175.5" rx="3.5" ry="2.3" transform="rotate(35 106.1 175.5)"/></g></mask>
<path d="M11.3,97.9 L14.6,97.0 L17.3,98.7 L20.0,94.7 L23.7,91.9 L26.4,87.4 L29.2,84.6 L35.5,83.7 L41.9,84.6 L51.0,85.5 L61.1,85.5 L64.7,81.9 L69.3,74.6 L74.8,70.0 L82.0,66.4 L86.6,62.7 L87.0,60.2 L81.5,50.2 L79.7,40.1 L86.5,35.1 L89.0,37.6 L96.5,40.1 L105.3,43.9 L116.6,45.1 L125.4,32.6 L130.4,33.9 L140.4,32.6 L155.5,27.6 L165.0,25.1 L170.0,32.6 L175.0,40.1 L180.0,46.4 L185.1,47.6 L186.3,40.1 L192.6,45.1 L202.6,48.9 L213.9,53.9 L215.2,47.6 L213.9,32.6 L222.7,30.1 L225.2,26.3 L231.4,28.8 L240.2,27.6 L241.5,20.1 L245.2,11.3 L250.3,13.8 L255.3,21.3 L260.3,25.1 L261.5,30.1 L266.6,31.3 L267.8,37.6 L275.3,41.4 L287.9,41.4 L294.1,48.9 L294.1,53.9 L285.4,56.4 L282.9,62.7 L287.9,72.7 L297.9,75.2 L309.2,75.2 L311.7,80.2 L307.9,87.8 L304.2,92.8 L300.4,99.0 L295.4,101.6 L287.9,97.8 L282.9,105.3 L281.6,115.3 L284.1,122.9 L281.6,135.4 L275.3,142.9 L265.3,150.5 L270.3,155.5 L272.8,165.0 L265.3,168.8 L260.3,166.3 L252.8,170.0 L259.0,177.5 L260.3,185.1 L255.3,193.8 L247.7,198.9 L240.2,201.4 L235.2,197.6 L226.4,195.1 L223.9,202.6 L217.7,206.4 L215.2,211.4 L212.6,218.9 L205.1,223.9 L195.1,227.7 L180.0,231.4 L165.0,239.0 L150.5,245.2 L137.9,251.5 L127.9,257.8 L121.6,265.3 L117.9,275.3 L112.8,285.4 L105.3,290.4 L97.8,295.4 L92.8,302.9 L82.7,307.9 L70.2,311.7 L57.7,315.5 L50.2,314.2 L42.6,310.4 L43.9,306.7 L51.4,304.2 L52.7,297.9 L60.2,294.1 L61.4,289.1 L53.9,290.4 L50.2,285.4 L52.7,275.3 L53.9,252.8 L55.2,227.7 L57.2,202.6 L58.9,180.0 L62.0,174.9 L67.5,165.8 L74.8,160.3 L82.0,154.8 L87.5,154.8 L83.9,146.6 L78.4,140.2 L73.8,135.1 L65.6,136.6 L62.0,135.7 L58.3,131.1 L54.7,125.7 L49.2,121.1 L44.7,120.2 L39.2,122.0 L35.5,125.7 L33.7,130.2 L30.1,129.3 L28.2,122.0 L25.5,116.5 L21.9,112.9 L20.0,108.3 L17.3,103.8 L13.7,102.3 L11.3,103.4Z" fill="none" stroke="#6a6a6a" stroke-width="0.9" stroke-linejoin="round" mask="url(#om1)"/>
<text x="196.1" y="245" font-size="7.4" text-anchor="middle" fill="#000">N</text>
<path d="M196.1,247.3 L189.9,267 L196.1,260.6Z" fill="#000" stroke="#000" stroke-width="0.5" stroke-linejoin="miter"/>
<path d="M196.1,247.3 L202.2,267 L196.1,260.6Z" fill="#fff" stroke="#000" stroke-width="0.6" stroke-linejoin="miter"/>
<rect x="142" y="285.2" width="85.4" height="5.9" fill="#000"/>
<rect x="153.2" y="286" width="10.1" height="4.3" fill="#fff"/>
<rect x="174.3" y="286" width="10.1" height="4.3" fill="#fff"/>
<g font-size="6.3" text-anchor="middle" fill="#000">
<text x="142.3" y="282.5">0</text>
<text x="163.5" y="282.5">20</text>
<text x="184.4" y="282.5">40</text>
<text x="226.6" y="282.5">80</text>
<text x="237.7" y="282.5">km</text>
</g>
<text x="37.400000000000034" y="56.400000000000006" font-size="21" letter-spacing="0.3" fill="#000">qp3</text>
</g>
<g transform="translate(648.1,0.7)">
<path d="M11.3,97.9 L14.6,97.0 L17.3,98.7 L20.0,94.7 L23.7,91.9 L26.4,87.4 L29.2,84.6 L35.5,83.7 L41.9,84.6 L51.0,85.5 L61.1,85.5 L64.7,81.9 L69.3,74.6 L74.8,70.0 L82.0,66.4 L86.6,62.7 L87.0,60.2 L81.5,50.2 L79.7,40.1 L86.5,35.1 L89.0,37.6 L96.5,40.1 L105.3,43.9 L116.6,45.1 L125.4,32.6 L130.4,33.9 L140.4,32.6 L155.5,27.6 L165.0,25.1 L170.0,32.6 L175.0,40.1 L180.0,46.4 L185.1,47.6 L186.3,40.1 L192.6,45.1 L202.6,48.9 L213.9,53.9 L215.2,47.6 L213.9,32.6 L222.7,30.1 L225.2,26.3 L231.4,28.8 L240.2,27.6 L241.5,20.1 L245.2,11.3 L250.3,13.8 L255.3,21.3 L260.3,25.1 L261.5,30.1 L266.6,31.3 L267.8,37.6 L275.3,41.4 L287.9,41.4 L294.1,48.9 L294.1,53.9 L285.4,56.4 L282.9,62.7 L287.9,72.7 L297.9,75.2 L309.2,75.2 L311.7,80.2 L307.9,87.8 L304.2,92.8 L300.4,99.0 L295.4,101.6 L287.9,97.8 L282.9,105.3 L281.6,115.3 L284.1,122.9 L281.6,135.4 L275.3,142.9 L265.3,150.5 L270.3,155.5 L272.8,165.0 L265.3,168.8 L260.3,166.3 L252.8,170.0 L259.0,177.5 L260.3,185.1 L255.3,193.8 L247.7,198.9 L240.2,201.4 L235.2,197.6 L226.4,195.1 L223.9,202.6 L217.7,206.4 L215.2,211.4 L212.6,218.9 L205.1,223.9 L195.1,227.7 L180.0,231.4 L165.0,239.0 L150.5,245.2 L137.9,251.5 L127.9,257.8 L121.6,265.3 L117.9,275.3 L112.8,285.4 L105.3,290.4 L97.8,295.4 L92.8,302.9 L82.7,307.9 L70.2,311.7 L57.7,315.5 L50.2,314.2 L42.6,310.4 L43.9,306.7 L51.4,304.2 L52.7,297.9 L60.2,294.1 L61.4,289.1 L53.9,290.4 L50.2,285.4 L52.7,275.3 L53.9,252.8 L55.2,227.7 L57.2,202.6 L58.9,180.0 L62.0,174.9 L67.5,165.8 L74.8,160.3 L82.0,154.8 L87.5,154.8 L83.9,146.6 L78.4,140.2 L73.8,135.1 L65.6,136.6 L62.0,135.7 L58.3,131.1 L54.7,125.7 L49.2,121.1 L44.7,120.2 L39.2,122.0 L35.5,125.7 L33.7,130.2 L30.1,129.3 L28.2,122.0 L25.5,116.5 L21.9,112.9 L20.0,108.3 L17.3,103.8 L13.7,102.3 L11.3,103.4Z" fill="#fbfaf5" stroke="none"/>
<g mask="url(#mk)">
<g filter="url(#post)">
<g fill="rgb(92,92,92)">
<path d="M0.0,0.0 L330.0,0.0 L330.0,330.0 L0.0,330.0Z"/>
</g>
<g fill="rgb(35,35,35)" filter="url(#b3)">
<path d="M8.9,92.4 L79.4,33.2 L169.7,21.9 L245.8,7.8 L299.4,41.6 L316.3,81.1 L299.4,106.5 L282.5,131.9 L271.2,164.3 L243.0,157.3 L226.1,120.6 L214.8,100.9 L180.9,81.1 L164.0,92.4 L152.7,106.5 L133.0,98.0 L113.2,89.6 L93.5,83.9 L56.8,98.0 L28.6,106.5Z"/>
</g>
<g fill="rgb(64,64,64)" filter="url(#b2.5)">
<ellipse cx="140.0" cy="38.8" rx="19.7" ry="6.2" transform="rotate(0 140.0 38.8)"/>
<ellipse cx="102.0" cy="76.0" rx="6.2" ry="5.1" transform="rotate(0 102.0 76.0)"/>
<ellipse cx="145.7" cy="94.4" rx="6.2" ry="5.1" transform="rotate(0 145.7 94.4)"/>
<ellipse cx="248.6" cy="146.0" rx="28.2" ry="22.6" transform="rotate(0 248.6 146.0)"/>
<ellipse cx="226.1" cy="117.8" rx="14.1" ry="16.9" transform="rotate(0 226.1 117.8)"/>
<ellipse cx="65.3" cy="112.1" rx="31.0" ry="11.3" transform="rotate(0 65.3 112.1)"/>
<ellipse cx="172.5" cy="131.9" rx="11.3" ry="11.3" transform="rotate(0 172.5 131.9)"/>
<ellipse cx="51.2" cy="100.9" rx="16.9" ry="7.1" transform="rotate(0 51.2 100.9)"/>
</g>
<g fill="rgb(35,35,35)" filter="url(#b2.5)">
<ellipse cx="271.2" cy="131.9" rx="16.9" ry="31.0" transform="rotate(0 271.2 131.9)"/>
<ellipse cx="296.6" cy="83.9" rx="16.9" ry="16.9" transform="rotate(0 296.6 83.9)"/>
<ellipse cx="46.9" cy="96.6" rx="35.3" ry="11.8" transform="rotate(0 46.9 96.6)"/>
</g>
<g fill="rgb(50,50,50)" filter="url(#b2)">
<ellipse cx="68.1" cy="110.7" rx="25.4" ry="5.1" transform="rotate(0 68.1 110.7)"/>
</g>
<g fill="rgb(64,64,64)" filter="url(#b2.5)">
<ellipse cx="192.2" cy="96.6" rx="25.4" ry="16.9" transform="rotate(0 192.2 96.6)"/>
</g>
<g fill="rgb(92,92,92)" filter="url(#b2)">
<ellipse cx="185.2" cy="93.8" rx="11.3" ry="9.9" transform="rotate(0 185.2 93.8)"/>
<ellipse cx="203.5" cy="120.6" rx="16.9" ry="19.7" transform="rotate(0 203.5 120.6)"/>
<ellipse cx="85.0" cy="131.9" rx="16.9" ry="14.1" transform="rotate(0 85.0 131.9)"/>
<ellipse cx="180.9" cy="157.3" rx="22.6" ry="16.9" transform="rotate(0 180.9 157.3)"/>
</g>
<g fill="rgb(78,78,78)" filter="url(#b2)">
<ellipse cx="250.0" cy="41.6" rx="22.6" ry="28.2" transform="rotate(0 250.0 41.6)"/>
</g>
<g fill="rgb(106,106,106)" filter="url(#b2)">
<ellipse cx="262.7" cy="34.6" rx="8.5" ry="11.8" transform="rotate(0 262.7 34.6)"/>
<ellipse cx="252.9" cy="57.1" rx="7.3" ry="6.8" transform="rotate(0 252.9 57.1)"/>
</g>
<g fill="rgb(120,120,120)" filter="url(#b2)">
<ellipse cx="206.3" cy="131.9" rx="8.5" ry="11.3" transform="rotate(0 206.3 131.9)"/>
</g>
<g fill="rgb(120,120,120)" filter="url(#b2.5)">
<ellipse cx="138.6" cy="126.2" rx="21.2" ry="36.7" transform="rotate(-32 138.6 126.2)"/>
</g>
<g fill="rgb(177,177,177)" filter="url(#b2.5)">
<ellipse cx="137.2" cy="123.4" rx="9.0" ry="32.4" transform="rotate(-35 137.2 123.4)"/>
</g>
<g fill="rgb(205,205,205)" filter="url(#b1.5)">
<ellipse cx="135.8" cy="115.5" rx="4.5" ry="8.5" transform="rotate(-35 135.8 115.5)"/>
</g>
<g fill="rgb(106,106,106)" filter="url(#b3)">
<ellipse cx="93.5" cy="206.6" rx="22.6" ry="26.8" transform="rotate(0 93.5 206.6)"/>
<ellipse cx="158.4" cy="206.6" rx="36.7" ry="21.2" transform="rotate(0 158.4 206.6)"/>
<ellipse cx="127.3" cy="238.2" rx="33.9" ry="12.7" transform="rotate(0 127.3 238.2)"/>
<ellipse cx="217.6" cy="186.9" rx="33.9" ry="18.3" transform="rotate(0 217.6 186.9)"/>
<ellipse cx="93.5" cy="175.6" rx="25.4" ry="11.3" transform="rotate(0 93.5 175.6)"/>
<ellipse cx="158.4" cy="151.6" rx="33.9" ry="16.9" transform="rotate(0 158.4 151.6)"/>
<ellipse cx="85.0" cy="140.3" rx="25.4" ry="14.1" transform="rotate(0 85.0 140.3)"/>
</g>
<g fill="rgb(64,64,64)" filter="url(#b2.5)">
<ellipse cx="72.3" cy="177.0" rx="7.9" ry="5.1" transform="rotate(0 72.3 177.0)"/>
<ellipse cx="68.1" cy="195.9" rx="7.1" ry="7.1" transform="rotate(0 68.1 195.9)"/>
<ellipse cx="110.4" cy="204.4" rx="10.2" ry="8.5" transform="rotate(0 110.4 204.4)"/>
<ellipse cx="76.6" cy="257.4" rx="10.7" ry="10.2" transform="rotate(0 76.6 257.4)"/>
<ellipse cx="91.2" cy="239.3" rx="7.3" ry="6.2" transform="rotate(0 91.2 239.3)"/>
<ellipse cx="74.3" cy="291.8" rx="9.0" ry="9.0" transform="rotate(0 74.3 291.8)"/>
<ellipse cx="82.2" cy="243.3" rx="15.5" ry="7.1" transform="rotate(0 82.2 243.3)"/>
<ellipse cx="76.6" cy="296.9" rx="25.4" ry="16.9" transform="rotate(0 76.6 296.9)"/>
<ellipse cx="124.5" cy="168.5" rx="6.2" ry="4.5" transform="rotate(0 124.5 168.5)"/>
<ellipse cx="147.1" cy="198.2" rx="3.9" ry="3.9" transform="rotate(0 147.1 198.2)"/>
<ellipse cx="180.9" cy="195.3" rx="4.5" ry="3.9" transform="rotate(0 180.9 195.3)"/>
<ellipse cx="224.7" cy="186.9" rx="5.1" ry="4.5" transform="rotate(0 224.7 186.9)"/>
<ellipse cx="151.3" cy="236.2" rx="4.5" ry="3.9" transform="rotate(0 151.3 236.2)"/>
<ellipse cx="248.6" cy="169.9" rx="4.5" ry="3.9" transform="rotate(0 248.6 169.9)"/>
<ellipse cx="65.3" cy="248.9" rx="8.5" ry="16.9" transform="rotate(0 65.3 248.9)"/>
</g>
<g fill="rgb(35,35,35)" filter="url(#b1.5)">
<ellipse cx="75.2" cy="257.4" rx="3.9" ry="4.5" transform="rotate(0 75.2 257.4)"/>
<ellipse cx="68.1" cy="195.9" rx="2.8" ry="2.8" transform="rotate(0 68.1 195.9)"/>
<ellipse cx="124.5" cy="167.7" rx="2.3" ry="2.0" transform="rotate(0 124.5 167.7)"/>
<ellipse cx="74.3" cy="291.8" rx="2.8" ry="2.8" transform="rotate(0 74.3 291.8)"/>
<ellipse cx="114.6" cy="202.4" rx="2.8" ry="2.8" transform="rotate(0 114.6 202.4)"/>
</g>
<g fill="rgb(120,120,120)" filter="url(#b2.5)">
<ellipse cx="106.2" cy="177.0" rx="14.1" ry="5.6" transform="rotate(0 106.2 177.0)"/>
<ellipse cx="90.7" cy="213.7" rx="7.1" ry="15.5" transform="rotate(0 90.7 213.7)"/>
<ellipse cx="138.6" cy="213.7" rx="5.1" ry="7.1" transform="rotate(0 138.6 213.7)"/>
<ellipse cx="183.8" cy="227.8" rx="14.1" ry="5.1" transform="rotate(-25 183.8 227.8)"/>
<ellipse cx="158.4" cy="181.2" rx="16.9" ry="8.5" transform="rotate(0 158.4 181.2)"/>
<ellipse cx="240.2" cy="189.7" rx="14.1" ry="11.3" transform="rotate(0 240.2 189.7)"/>
<ellipse cx="197.9" cy="175.6" rx="11.3" ry="8.5" transform="rotate(0 197.9 175.6)"/>
<ellipse cx="169.7" cy="215.1" rx="11.3" ry="8.5" transform="rotate(0 169.7 215.1)"/>
</g>
</g>
<g fill="#fbfaf5" filter="url(#jag)">
<path d="M64.7,76.0 L80.2,63.1 L91.2,61.9 L96.9,74.9 L97.7,86.7 L93.5,95.2 L85.0,96.6 L79.4,92.4 L68.1,95.2 L56.8,96.6 L45.5,95.2 L46.9,91.0 L56.8,89.6Z"/>
<path d="M93.5,100.9 L102.0,98.0 L110.4,106.5 L116.1,117.8 L113.2,124.8 L104.8,120.6 L96.3,112.1Z"/>
<ellipse cx="149.3" cy="75.5" rx="5.9" ry="6.8" transform="rotate(15 149.3 75.5)"/>
<ellipse cx="209.7" cy="67.0" rx="5.1" ry="7.1" transform="rotate(10 209.7 67.0)"/>
<ellipse cx="188.8" cy="50.6" rx="2.3" ry="5.1" transform="rotate(10 188.8 50.6)"/>
<ellipse cx="268.4" cy="82.8" rx="6.2" ry="1.1" transform="rotate(0 268.4 82.8)"/>
<path d="M283.9,44.4 L291.0,41.6 L295.2,51.5 L288.1,55.7 L282.5,52.9Z"/>
<path d="M28.6,115.0 L35.7,116.4 L37.1,126.2 L30.9,127.6Z"/>
<path d="M20.1,106.5 L27.2,107.9 L28.6,112.7 L23.0,111.6Z"/>
<path d="M68.1,74.1 L84.5,61.4 L90.7,66.4 L76.6,79.7Z"/>
</g>
<g fill="none" stroke="#e6a48c" stroke-width="0.8" opacity="0.7">
<path d="M260.8,50.2 L245.7,70.2 L230.7,82.7 L215.6,100.3 L190.6,107.8 L178.0,112.8 L168.0,127.9 L163.0,145.4 L170.5,165.5 L193.1,193.1 L185.6,205.6 L160.5,223.2 L155.5,235.7 L127.9,240.7 L95.3,245.7 L80.2,270.8 L75.2,293.4"/>
<path d="M87.0,62.0 L100.0,75.0 L115.0,95.0 L130.0,115.0 L150.0,135.0 L163.0,147.0"/>
<path d="M30.0,108.0 L47.0,112.0 L60.0,118.0 L80.0,135.0"/>
<path d="M66.0,81.0 L76.0,75.0 L87.0,62.0"/>
<path d="M260.8,50.2 L250.8,37.6 L240.7,27.6"/>
</g>
<rect x="42.6" y="110.3" width="7.4" height="5.6" rx="1.6" fill="#f4f3f4" stroke="#9a98a6" stroke-width="0.6" opacity="0.55"/>
<text x="46.3" y="114.9" font-size="4.6" text-anchor="middle" fill="#777" opacity="0.55">80</text>
<g font-family="'Liberation Serif', serif" fill="#8a86b0" opacity="0.2">
<text x="92.8" y="62.2" font-size="9.5" font-family="'Liberation Sans', sans-serif">Châu Đốc</text>
<text x="125.4" y="77.7" font-size="9.5" letter-spacing="1.3">ĐỒNG</text>
<text x="129" y="87" font-size="9.5" letter-spacing="1.3">THÁP</text>
<text x="187.6" y="67.7" font-size="10" letter-spacing="1.3">LONG AN</text>
<text x="62.7" y="96.5" font-size="10" letter-spacing="1.3">AN GIANG</text>
<text x="79" y="111.6" font-size="9.5" font-family="'Liberation Sans', sans-serif">Long Xuyên</text>
<text x="143" y="114" font-size="9.5" font-family="'Liberation Sans', sans-serif">Vĩnh Long</text>
<text x="182.5" y="101.5" font-size="8" letter-spacing="1.3">TIỀN GIANG</text>
<text x="221.4" y="115.3" font-size="9.5" font-family="'Liberation Sans', sans-serif">Mỹ Tho</text>
<text x="186.3" y="134" font-size="9.5" letter-spacing="1.3">VĨNH</text>
<text x="186.3" y="143" font-size="9.5" letter-spacing="1.3">LONG</text>
<text x="231.4" y="138" font-size="8" letter-spacing="1.3">BẾN TRE</text>
<text x="130.4" y="138" font-size="9.5" letter-spacing="1.3">CẦN</text>
<text x="133" y="148" font-size="9.5" letter-spacing="1.3">THƠ</text>
<text x="167.5" y="154" font-size="9.5" font-family="'Liberation Sans', sans-serif">Cần Thơ</text>
<text x="225" y="165" font-size="9.5" letter-spacing="1.3">TRÀ</text>
<text x="221.4" y="175" font-size="9.5" letter-spacing="1.3">VINH</text>
<text x="97.8" y="156.7" font-size="9.5" letter-spacing="1.3">KIÊN</text>
<text x="94" y="166.5" font-size="9.5" letter-spacing="1.3">GIANG</text>
<text x="136.7" y="177.5" font-size="8" letter-spacing="1.3">HẬU</text>
<text x="131.6" y="185" font-size="8" letter-spacing="1.3">GIANG</text>
<text x="196.3" y="193.8" font-size="9.5" font-family="'Liberation Sans', sans-serif">Sóc Trăng</text>
<text x="149.2" y="205" font-size="9.5" letter-spacing="1.3">SÓC TRĂNG</text>
<text x="117.9" y="220" font-size="8.5" letter-spacing="1.3">BẠC</text>
<text x="117.9" y="228" font-size="8.5" letter-spacing="1.3">LIÊU</text>
<text x="62.7" y="241.5" font-size="9.5" font-family="'Liberation Sans', sans-serif">Cà Mau</text>
<text x="125.4" y="240" font-size="9.5" font-family="'Liberation Sans', sans-serif">Bạc Liêu</text>
<text x="62.7" y="271.5" font-size="10.5" letter-spacing="1.3">CÀ MAU</text>
</g>
</g>
<mask id="om2" maskUnits="userSpaceOnUse" x="-10" y="-10" width="350" height="350"><g fill="#fff" stroke="#fff" stroke-width="3" filter="url(#jag)"><path d="M64.7,76.0 L80.2,63.1 L91.2,61.9 L96.9,74.9 L97.7,86.7 L93.5,95.2 L85.0,96.6 L79.4,92.4 L68.1,95.2 L56.8,96.6 L45.5,95.2 L46.9,91.0 L56.8,89.6Z"/><path d="M93.5,100.9 L102.0,98.0 L110.4,106.5 L116.1,117.8 L113.2,124.8 L104.8,120.6 L96.3,112.1Z"/><ellipse cx="149.3" cy="75.5" rx="5.9" ry="6.8" transform="rotate(15 149.3 75.5)"/><ellipse cx="209.7" cy="67.0" rx="5.1" ry="7.1" transform="rotate(10 209.7 67.0)"/><ellipse cx="188.8" cy="50.6" rx="2.3" ry="5.1" transform="rotate(10 188.8 50.6)"/><ellipse cx="268.4" cy="82.8" rx="6.2" ry="1.1" transform="rotate(0 268.4 82.8)"/><path d="M283.9,44.4 L291.0,41.6 L295.2,51.5 L288.1,55.7 L282.5,52.9Z"/><path d="M28.6,115.0 L35.7,116.4 L37.1,126.2 L30.9,127.6Z"/><path d="M20.1,106.5 L27.2,107.9 L28.6,112.7 L23.0,111.6Z"/><path d="M68.1,74.1 L84.5,61.4 L90.7,66.4 L76.6,79.7Z"/></g></mask>
<path d="M11.3,97.9 L14.6,97.0 L17.3,98.7 L20.0,94.7 L23.7,91.9 L26.4,87.4 L29.2,84.6 L35.5,83.7 L41.9,84.6 L51.0,85.5 L61.1,85.5 L64.7,81.9 L69.3,74.6 L74.8,70.0 L82.0,66.4 L86.6,62.7 L87.0,60.2 L81.5,50.2 L79.7,40.1 L86.5,35.1 L89.0,37.6 L96.5,40.1 L105.3,43.9 L116.6,45.1 L125.4,32.6 L130.4,33.9 L140.4,32.6 L155.5,27.6 L165.0,25.1 L170.0,32.6 L175.0,40.1 L180.0,46.4 L185.1,47.6 L186.3,40.1 L192.6,45.1 L202.6,48.9 L213.9,53.9 L215.2,47.6 L213.9,32.6 L222.7,30.1 L225.2,26.3 L231.4,28.8 L240.2,27.6 L241.5,20.1 L245.2,11.3 L250.3,13.8 L255.3,21.3 L260.3,25.1 L261.5,30.1 L266.6,31.3 L267.8,37.6 L275.3,41.4 L287.9,41.4 L294.1,48.9 L294.1,53.9 L285.4,56.4 L282.9,62.7 L287.9,72.7 L297.9,75.2 L309.2,75.2 L311.7,80.2 L307.9,87.8 L304.2,92.8 L300.4,99.0 L295.4,101.6 L287.9,97.8 L282.9,105.3 L281.6,115.3 L284.1,122.9 L281.6,135.4 L275.3,142.9 L265.3,150.5 L270.3,155.5 L272.8,165.0 L265.3,168.8 L260.3,166.3 L252.8,170.0 L259.0,177.5 L260.3,185.1 L255.3,193.8 L247.7,198.9 L240.2,201.4 L235.2,197.6 L226.4,195.1 L223.9,202.6 L217.7,206.4 L215.2,211.4 L212.6,218.9 L205.1,223.9 L195.1,227.7 L180.0,231.4 L165.0,239.0 L150.5,245.2 L137.9,251.5 L127.9,257.8 L121.6,265.3 L117.9,275.3 L112.8,285.4 L105.3,290.4 L97.8,295.4 L92.8,302.9 L82.7,307.9 L70.2,311.7 L57.7,315.5 L50.2,314.2 L42.6,310.4 L43.9,306.7 L51.4,304.2 L52.7,297.9 L60.2,294.1 L61.4,289.1 L53.9,290.4 L50.2,285.4 L52.7,275.3 L53.9,252.8 L55.2,227.7 L57.2,202.6 L58.9,180.0 L62.0,174.9 L67.5,165.8 L74.8,160.3 L82.0,154.8 L87.5,154.8 L83.9,146.6 L78.4,140.2 L73.8,135.1 L65.6,136.6 L62.0,135.7 L58.3,131.1 L54.7,125.7 L49.2,121.1 L44.7,120.2 L39.2,122.0 L35.5,125.7 L33.7,130.2 L30.1,129.3 L28.2,122.0 L25.5,116.5 L21.9,112.9 L20.0,108.3 L17.3,103.8 L13.7,102.3 L11.3,103.4Z" fill="none" stroke="#6a6a6a" stroke-width="0.9" stroke-linejoin="round" mask="url(#om2)"/>
<text x="196.1" y="245" font-size="7.4" text-anchor="middle" fill="#000">N</text>
<path d="M196.1,247.3 L189.9,267 L196.1,260.6Z" fill="#000" stroke="#000" stroke-width="0.5" stroke-linejoin="miter"/>
<path d="M196.1,247.3 L202.2,267 L196.1,260.6Z" fill="#fff" stroke="#000" stroke-width="0.6" stroke-linejoin="miter"/>
<rect x="142" y="285.2" width="85.4" height="5.9" fill="#000"/>
<rect x="153.2" y="286" width="10.1" height="4.3" fill="#fff"/>
<rect x="174.3" y="286" width="10.1" height="4.3" fill="#fff"/>
<g font-size="6.3" text-anchor="middle" fill="#000">
<text x="142.3" y="282.5">0</text>
<text x="163.5" y="282.5">20</text>
<text x="184.4" y="282.5">40</text>
<text x="226.6" y="282.5">80</text>
<text x="237.7" y="282.5">km</text>
</g>
<text x="20.899999999999977" y="56.5" font-size="21" letter-spacing="0.3" fill="#000">qp2-3</text>
</g>
<g transform="translate(0.8,323.0)">
<path d="M11.3,97.9 L14.6,97.0 L17.3,98.7 L20.0,94.7 L23.7,91.9 L26.4,87.4 L29.2,84.6 L35.5,83.7 L41.9,84.6 L51.0,85.5 L61.1,85.5 L64.7,81.9 L69.3,74.6 L74.8,70.0 L82.0,66.4 L86.6,62.7 L87.0,60.2 L81.5,50.2 L79.7,40.1 L86.5,35.1 L89.0,37.6 L96.5,40.1 L105.3,43.9 L116.6,45.1 L125.4,32.6 L130.4,33.9 L140.4,32.6 L155.5,27.6 L165.0,25.1 L170.0,32.6 L175.0,40.1 L180.0,46.4 L185.1,47.6 L186.3,40.1 L192.6,45.1 L202.6,48.9 L213.9,53.9 L215.2,47.6 L213.9,32.6 L222.7,30.1 L225.2,26.3 L231.4,28.8 L240.2,27.6 L241.5,20.1 L245.2,11.3 L250.3,13.8 L255.3,21.3 L260.3,25.1 L261.5,30.1 L266.6,31.3 L267.8,37.6 L275.3,41.4 L287.9,41.4 L294.1,48.9 L294.1,53.9 L285.4,56.4 L282.9,62.7 L287.9,72.7 L297.9,75.2 L309.2,75.2 L311.7,80.2 L307.9,87.8 L304.2,92.8 L300.4,99.0 L295.4,101.6 L287.9,97.8 L282.9,105.3 L281.6,115.3 L284.1,122.9 L281.6,135.4 L275.3,142.9 L265.3,150.5 L270.3,155.5 L272.8,165.0 L265.3,168.8 L260.3,166.3 L252.8,170.0 L259.0,177.5 L260.3,185.1 L255.3,193.8 L247.7,198.9 L240.2,201.4 L235.2,197.6 L226.4,195.1 L223.9,202.6 L217.7,206.4 L215.2,211.4 L212.6,218.9 L205.1,223.9 L195.1,227.7 L180.0,231.4 L165.0,239.0 L150.5,245.2 L137.9,251.5 L127.9,257.8 L121.6,265.3 L117.9,275.3 L112.8,285.4 L105.3,290.4 L97.8,295.4 L92.8,302.9 L82.7,307.9 L70.2,311.7 L57.7,315.5 L50.2,314.2 L42.6,310.4 L43.9,306.7 L51.4,304.2 L52.7,297.9 L60.2,294.1 L61.4,289.1 L53.9,290.4 L50.2,285.4 L52.7,275.3 L53.9,252.8 L55.2,227.7 L57.2,202.6 L58.9,180.0 L62.0,174.9 L67.5,165.8 L74.8,160.3 L82.0,154.8 L87.5,154.8 L83.9,146.6 L78.4,140.2 L73.8,135.1 L65.6,136.6 L62.0,135.7 L58.3,131.1 L54.7,125.7 L49.2,121.1 L44.7,120.2 L39.2,122.0 L35.5,125.7 L33.7,130.2 L30.1,129.3 L28.2,122.0 L25.5,116.5 L21.9,112.9 L20.0,108.3 L17.3,103.8 L13.7,102.3 L11.3,103.4Z" fill="#fbfaf5" stroke="none"/>
<g mask="url(#mk)">
<g filter="url(#post)">
<g fill="rgb(35,35,35)">
<path d="M0.0,0.0 L330.0,0.0 L330.0,330.0 L0.0,330.0Z"/>
</g>
<g fill="rgb(92,92,92)" filter="url(#b3)">
<path d="M55.2,168.0 L89.3,150.5 L111.8,150.5 L116.9,190.6 L136.9,193.1 L141.9,165.5 L164.5,145.4 L189.6,140.4 L209.6,150.5 L219.7,165.5 L234.7,170.5 L254.8,175.5 L267.3,193.1 L249.8,205.6 L224.7,206.6 L219.7,225.7 L172.0,246.7 L131.9,273.3 L124.4,290.9 L106.8,313.4 L46.6,331.0 L41.6,250.8 L48.1,200.6Z"/>
</g>
<g fill="rgb(64,64,64)" filter="url(#b2.5)">
<ellipse cx="125.4" cy="160.5" rx="11.0" ry="22.6" transform="rotate(0 125.4 160.5)"/>
<ellipse cx="79.2" cy="295.9" rx="22.6" ry="22.6" transform="rotate(0 79.2 295.9)"/>
<ellipse cx="106.8" cy="260.8" rx="15.0" ry="25.1" transform="rotate(30 106.8 260.8)"/>
<ellipse cx="234.7" cy="205.6" rx="20.1" ry="12.5" transform="rotate(0 234.7 205.6)"/>
<ellipse cx="124.4" cy="178.0" rx="15.0" ry="10.0" transform="rotate(0 124.4 178.0)"/>
<ellipse cx="70.2" cy="178.0" rx="10.0" ry="23.1" transform="rotate(0 70.2 178.0)"/>
</g>
<g fill="rgb(35,35,35)" filter="url(#b2)">
<ellipse cx="125.4" cy="158.0" rx="7.0" ry="17.6" transform="rotate(0 125.4 158.0)"/>
<ellipse cx="69.2" cy="300.9" rx="11.0" ry="10.0" transform="rotate(0 69.2 300.9)"/>
<ellipse cx="70.2" cy="175.5" rx="6.0" ry="16.0" transform="rotate(0 70.2 175.5)"/>
</g>
<g fill="rgb(50,50,50)" filter="url(#b2.5)">
<ellipse cx="83.6" cy="118.5" rx="22.6" ry="8.5" transform="rotate(0 83.6 118.5)"/>
<ellipse cx="63.9" cy="103.0" rx="19.7" ry="7.1" transform="rotate(0 63.9 103.0)"/>
</g>
<g fill="rgb(64,64,64)" filter="url(#b2.5)">
<ellipse cx="145.7" cy="33.3" rx="25.4" ry="9.0" transform="rotate(0 145.7 33.3)"/>
<ellipse cx="140.0" cy="76.2" rx="19.7" ry="26.8" transform="rotate(15 140.0 76.2)"/>
<ellipse cx="185.2" cy="97.3" rx="24.0" ry="14.1" transform="rotate(0 185.2 97.3)"/>
<ellipse cx="244.4" cy="42.3" rx="35.3" ry="26.8" transform="rotate(0 244.4 42.3)"/>
<ellipse cx="265.6" cy="86.0" rx="14.1" ry="11.3" transform="rotate(0 265.6 86.0)"/>
<ellipse cx="113.2" cy="103.0" rx="7.9" ry="11.3" transform="rotate(0 113.2 103.0)"/>
<ellipse cx="66.7" cy="103.8" rx="8.5" ry="2.8" transform="rotate(0 66.7 103.8)"/>
<ellipse cx="257.1" cy="152.3" rx="1.4" ry="12.7" transform="rotate(0 257.1 152.3)"/>
</g>
<g fill="rgb(92,92,92)" filter="url(#b2)">
<ellipse cx="159.8" cy="31.6" rx="11.8" ry="6.2" transform="rotate(0 159.8 31.6)"/>
<ellipse cx="145.7" cy="70.5" rx="6.8" ry="7.6" transform="rotate(0 145.7 70.5)"/>
<ellipse cx="131.6" cy="84.6" rx="5.6" ry="5.6" transform="rotate(0 131.6 84.6)"/>
<ellipse cx="147.1" cy="98.7" rx="5.6" ry="6.2" transform="rotate(0 147.1 98.7)"/>
<ellipse cx="171.1" cy="93.1" rx="6.2" ry="5.6" transform="rotate(0 171.1 93.1)"/>
<ellipse cx="197.9" cy="104.4" rx="7.1" ry="6.2" transform="rotate(0 197.9 104.4)"/>
<ellipse cx="254.3" cy="26.8" rx="9.9" ry="11.3" transform="rotate(0 254.3 26.8)"/>
<ellipse cx="238.8" cy="50.8" rx="7.9" ry="7.1" transform="rotate(0 238.8 50.8)"/>
<ellipse cx="269.8" cy="52.2" rx="9.9" ry="9.9" transform="rotate(0 269.8 52.2)"/>
<ellipse cx="261.3" cy="84.6" rx="8.5" ry="5.1" transform="rotate(0 261.3 84.6)"/>
<ellipse cx="257.1" cy="93.1" rx="4.2" ry="7.1" transform="rotate(0 257.1 93.1)"/>
</g>
<g fill="rgb(120,120,120)" filter="url(#b1.5)">
<ellipse cx="268.4" cy="50.8" rx="5.1" ry="5.1" transform="rotate(0 268.4 50.8)"/>
<ellipse cx="171.1" cy="93.1" rx="2.5" ry="2.3" transform="rotate(0 171.1 93.1)"/>
</g>
<g fill="rgb(120,120,120)" filter="url(#b3)">
<ellipse cx="164.5" cy="159.5" rx="22.6" ry="21.1" transform="rotate(0 164.5 159.5)"/>
<ellipse cx="101.8" cy="183.0" rx="17.6" ry="14.0" transform="rotate(0 101.8 183.0)"/>
<ellipse cx="106.2" cy="184.7" rx="12.7" ry="9.9" transform="rotate(0 106.2 184.7)"/>
<ellipse cx="249.8" cy="191.6" rx="8.0" ry="7.0" transform="rotate(0 249.8 191.6)"/>
<ellipse cx="212.1" cy="165.5" rx="12.5" ry="10.0" transform="rotate(0 212.1 165.5)"/>
<ellipse cx="160.5" cy="212.6" rx="15.0" ry="14.0" transform="rotate(0 160.5 212.6)"/>
<ellipse cx="184.6" cy="220.7" rx="15.0" ry="10.0" transform="rotate(0 184.6 220.7)"/>
</g>
<g fill="rgb(149,149,149)" filter="url(#b2.5)">
<ellipse cx="165.5" cy="156.5" rx="14.0" ry="13.0" transform="rotate(0 165.5 156.5)"/>
<ellipse cx="101.8" cy="184.6" rx="7.5" ry="6.0" transform="rotate(0 101.8 184.6)"/>
</g>
<g fill="rgb(205,205,205)" filter="url(#b2)">
<ellipse cx="166.0" cy="154.5" rx="6.5" ry="6.0" transform="rotate(0 166.0 154.5)"/>
</g>
<g fill="rgb(78,78,78)" filter="url(#b2.5)">
<ellipse cx="128.4" cy="212.6" rx="18.1" ry="18.1" transform="rotate(0 128.4 212.6)"/>
</g>
<g fill="rgb(64,64,64)" filter="url(#b2)">
<ellipse cx="140.0" cy="174.9" rx="16.9" ry="9.9" transform="rotate(0 140.0 174.9)"/>
<ellipse cx="182.4" cy="194.6" rx="8.5" ry="7.1" transform="rotate(0 182.4 194.6)"/>
<ellipse cx="121.7" cy="246.8" rx="9.9" ry="11.3" transform="rotate(0 121.7 246.8)"/>
<ellipse cx="111.8" cy="270.8" rx="11.3" ry="12.7" transform="rotate(0 111.8 270.8)"/>
</g>
</g>
<g fill="#fbfaf5" filter="url(#jag)">
<path d="M6.1,98.7 L25.8,81.2 L66.7,77.9 L85.0,60.4 L94.9,73.3 L97.7,84.6 L92.1,93.1 L80.8,90.3 L72.3,97.3 L66.7,93.1 L49.8,93.1 L35.7,97.3 L34.3,105.8 L41.3,112.8 L30.0,118.5 L32.3,131.2 L27.2,126.9 L21.6,112.8Z"/>
<path d="M123.1,114.2 L130.2,110.0 L137.2,112.8 L145.7,124.1 L140.0,127.5 L131.6,124.1 L124.5,119.9Z"/>
<path d="M144.3,139.6 L149.9,136.8 L154.1,143.9 L152.7,152.3 L145.7,150.9Z"/>
<ellipse cx="262.8" cy="35.3" rx="4.5" ry="3.9" transform="rotate(0 262.8 35.3)"/>
<path d="M281.1,45.1 L289.6,41.7 L294.1,52.2 L286.7,56.4 L281.1,53.6Z"/>
<ellipse cx="201.3" cy="177.7" rx="3.4" ry="3.4" transform="rotate(0 201.3 177.7)"/>
<ellipse cx="192.2" cy="201.7" rx="2.3" ry="6.2" transform="rotate(-15 192.2 201.7)"/>
<ellipse cx="206.3" cy="216.3" rx="3.4" ry="1.4" transform="rotate(-30 206.3 216.3)"/>
<ellipse cx="92.1" cy="115.7" rx="2.8" ry="2.0" transform="rotate(0 92.1 115.7)"/>
</g>
<g fill="none" stroke="#e6a48c" stroke-width="0.8" opacity="0.7">
<path d="M260.8,50.2 L245.7,70.2 L230.7,82.7 L215.6,100.3 L190.6,107.8 L178.0,112.8 L168.0,127.9 L163.0,145.4 L170.5,165.5 L193.1,193.1 L185.6,205.6 L160.5,223.2 L155.5,235.7 L127.9,240.7 L95.3,245.7 L80.2,270.8 L75.2,293.4"/>
<path d="M87.0,62.0 L100.0,75.0 L115.0,95.0 L130.0,115.0 L150.0,135.0 L163.0,147.0"/>
<path d="M30.0,108.0 L47.0,112.0 L60.0,118.0 L80.0,135.0"/>
<path d="M66.0,81.0 L76.0,75.0 L87.0,62.0"/>
<path d="M260.8,50.2 L250.8,37.6 L240.7,27.6"/>
</g>
<rect x="42.6" y="110.3" width="7.4" height="5.6" rx="1.6" fill="#f4f3f4" stroke="#9a98a6" stroke-width="0.6" opacity="0.55"/>
<text x="46.3" y="114.9" font-size="4.6" text-anchor="middle" fill="#777" opacity="0.55">80</text>
<g font-family="'Liberation Serif', serif" fill="#8a86b0" opacity="0.2">
<text x="92.8" y="62.2" font-size="9.5" font-family="'Liberation Sans', sans-serif">Châu Đốc</text>
<text x="125.4" y="77.7" font-size="9.5" letter-spacing="1.3">ĐỒNG</text>
<text x="129" y="87" font-size="9.5" letter-spacing="1.3">THÁP</text>
<text x="187.6" y="67.7" font-size="10" letter-spacing="1.3">LONG AN</text>
<text x="62.7" y="96.5" font-size="10" letter-spacing="1.3">AN GIANG</text>
<text x="79" y="111.6" font-size="9.5" font-family="'Liberation Sans', sans-serif">Long Xuyên</text>
<text x="143" y="114" font-size="9.5" font-family="'Liberation Sans', sans-serif">Vĩnh Long</text>
<text x="182.5" y="101.5" font-size="8" letter-spacing="1.3">TIỀN GIANG</text>
<text x="221.4" y="115.3" font-size="9.5" font-family="'Liberation Sans', sans-serif">Mỹ Tho</text>
<text x="186.3" y="134" font-size="9.5" letter-spacing="1.3">VĨNH</text>
<text x="186.3" y="143" font-size="9.5" letter-spacing="1.3">LONG</text>
<text x="231.4" y="138" font-size="8" letter-spacing="1.3">BẾN TRE</text>
<text x="130.4" y="138" font-size="9.5" letter-spacing="1.3">CẦN</text>
<text x="133" y="148" font-size="9.5" letter-spacing="1.3">THƠ</text>
<text x="167.5" y="154" font-size="9.5" font-family="'Liberation Sans', sans-serif">Cần Thơ</text>
<text x="225" y="165" font-size="9.5" letter-spacing="1.3">TRÀ</text>
<text x="221.4" y="175" font-size="9.5" letter-spacing="1.3">VINH</text>
<text x="97.8" y="156.7" font-size="9.5" letter-spacing="1.3">KIÊN</text>
<text x="94" y="166.5" font-size="9.5" letter-spacing="1.3">GIANG</text>
<text x="136.7" y="177.5" font-size="8" letter-spacing="1.3">HẬU</text>
<text x="131.6" y="185" font-size="8" letter-spacing="1.3">GIANG</text>
<text x="196.3" y="193.8" font-size="9.5" font-family="'Liberation Sans', sans-serif">Sóc Trăng</text>
<text x="149.2" y="205" font-size="9.5" letter-spacing="1.3">SÓC TRĂNG</text>
<text x="117.9" y="220" font-size="8.5" letter-spacing="1.3">BẠC</text>
<text x="117.9" y="228" font-size="8.5" letter-spacing="1.3">LIÊU</text>
<text x="62.7" y="241.5" font-size="9.5" font-family="'Liberation Sans', sans-serif">Cà Mau</text>
<text x="125.4" y="240" font-size="9.5" font-family="'Liberation Sans', sans-serif">Bạc Liêu</text>
<text x="62.7" y="271.5" font-size="10.5" letter-spacing="1.3">CÀ MAU</text>
</g>
</g>
<mask id="om3" maskUnits="userSpaceOnUse" x="-10" y="-10" width="350" height="350"><g fill="#fff" stroke="#fff" stroke-width="3" filter="url(#jag)"><path d="M6.1,98.7 L25.8,81.2 L66.7,77.9 L85.0,60.4 L94.9,73.3 L97.7,84.6 L92.1,93.1 L80.8,90.3 L72.3,97.3 L66.7,93.1 L49.8,93.1 L35.7,97.3 L34.3,105.8 L41.3,112.8 L30.0,118.5 L32.3,131.2 L27.2,126.9 L21.6,112.8Z"/><path d="M123.1,114.2 L130.2,110.0 L137.2,112.8 L145.7,124.1 L140.0,127.5 L131.6,124.1 L124.5,119.9Z"/><path d="M144.3,139.6 L149.9,136.8 L154.1,143.9 L152.7,152.3 L145.7,150.9Z"/><ellipse cx="262.8" cy="35.3" rx="4.5" ry="3.9" transform="rotate(0 262.8 35.3)"/><path d="M281.1,45.1 L289.6,41.7 L294.1,52.2 L286.7,56.4 L281.1,53.6Z"/><ellipse cx="201.3" cy="177.7" rx="3.4" ry="3.4" transform="rotate(0 201.3 177.7)"/><ellipse cx="192.2" cy="201.7" rx="2.3" ry="6.2" transform="rotate(-15 192.2 201.7)"/><ellipse cx="206.3" cy="216.3" rx="3.4" ry="1.4" transform="rotate(-30 206.3 216.3)"/><ellipse cx="92.1" cy="115.7" rx="2.8" ry="2.0" transform="rotate(0 92.1 115.7)"/></g></mask>
<path d="M11.3,97.9 L14.6,97.0 L17.3,98.7 L20.0,94.7 L23.7,91.9 L26.4,87.4 L29.2,84.6 L35.5,83.7 L41.9,84.6 L51.0,85.5 L61.1,85.5 L64.7,81.9 L69.3,74.6 L74.8,70.0 L82.0,66.4 L86.6,62.7 L87.0,60.2 L81.5,50.2 L79.7,40.1 L86.5,35.1 L89.0,37.6 L96.5,40.1 L105.3,43.9 L116.6,45.1 L125.4,32.6 L130.4,33.9 L140.4,32.6 L155.5,27.6 L165.0,25.1 L170.0,32.6 L175.0,40.1 L180.0,46.4 L185.1,47.6 L186.3,40.1 L192.6,45.1 L202.6,48.9 L213.9,53.9 L215.2,47.6 L213.9,32.6 L222.7,30.1 L225.2,26.3 L231.4,28.8 L240.2,27.6 L241.5,20.1 L245.2,11.3 L250.3,13.8 L255.3,21.3 L260.3,25.1 L261.5,30.1 L266.6,31.3 L267.8,37.6 L275.3,41.4 L287.9,41.4 L294.1,48.9 L294.1,53.9 L285.4,56.4 L282.9,62.7 L287.9,72.7 L297.9,75.2 L309.2,75.2 L311.7,80.2 L307.9,87.8 L304.2,92.8 L300.4,99.0 L295.4,101.6 L287.9,97.8 L282.9,105.3 L281.6,115.3 L284.1,122.9 L281.6,135.4 L275.3,142.9 L265.3,150.5 L270.3,155.5 L272.8,165.0 L265.3,168.8 L260.3,166.3 L252.8,170.0 L259.0,177.5 L260.3,185.1 L255.3,193.8 L247.7,198.9 L240.2,201.4 L235.2,197.6 L226.4,195.1 L223.9,202.6 L217.7,206.4 L215.2,211.4 L212.6,218.9 L205.1,223.9 L195.1,227.7 L180.0,231.4 L165.0,239.0 L150.5,245.2 L137.9,251.5 L127.9,257.8 L121.6,265.3 L117.9,275.3 L112.8,285.4 L105.3,290.4 L97.8,295.4 L92.8,302.9 L82.7,307.9 L70.2,311.7 L57.7,315.5 L50.2,314.2 L42.6,310.4 L43.9,306.7 L51.4,304.2 L52.7,297.9 L60.2,294.1 L61.4,289.1 L53.9,290.4 L50.2,285.4 L52.7,275.3 L53.9,252.8 L55.2,227.7 L57.2,202.6 L58.9,180.0 L62.0,174.9 L67.5,165.8 L74.8,160.3 L82.0,154.8 L87.5,154.8 L83.9,146.6 L78.4,140.2 L73.8,135.1 L65.6,136.6 L62.0,135.7 L58.3,131.1 L54.7,125.7 L49.2,121.1 L44.7,120.2 L39.2,122.0 L35.5,125.7 L33.7,130.2 L30.1,129.3 L28.2,122.0 L25.5,116.5 L21.9,112.9 L20.0,108.3 L17.3,103.8 L13.7,102.3 L11.3,103.4Z" fill="none" stroke="#6a6a6a" stroke-width="0.9" stroke-linejoin="round" mask="url(#om3)"/>
<text x="196.1" y="245" font-size="7.4" text-anchor="middle" fill="#000">N</text>
<path d="M196.1,247.3 L189.9,267 L196.1,260.6Z" fill="#000" stroke="#000" stroke-width="0.5" stroke-linejoin="miter"/>
<path d="M196.1,247.3 L202.2,267 L196.1,260.6Z" fill="#fff" stroke="#000" stroke-width="0.6" stroke-linejoin="miter"/>
<rect x="142" y="285.2" width="85.4" height="5.9" fill="#000"/>
<rect x="153.2" y="286" width="10.1" height="4.3" fill="#fff"/>
<rect x="174.3" y="286" width="10.1" height="4.3" fill="#fff"/>
<g font-size="6.3" text-anchor="middle" fill="#000">
<text x="142.3" y="282.5">0</text>
<text x="163.5" y="282.5">20</text>
<text x="184.4" y="282.5">40</text>
<text x="226.6" y="282.5">80</text>
<text x="237.7" y="282.5">km</text>
</g>
<text x="39.2" y="54.39999999999998" font-size="21" letter-spacing="0.3" fill="#000">qp1</text>
</g>
<g transform="translate(317.9,330.6)">
<path d="M11.3,97.9 L14.6,97.0 L17.3,98.7 L20.0,94.7 L23.7,91.9 L26.4,87.4 L29.2,84.6 L35.5,83.7 L41.9,84.6 L51.0,85.5 L61.1,85.5 L64.7,81.9 L69.3,74.6 L74.8,70.0 L82.0,66.4 L86.6,62.7 L87.0,60.2 L81.5,50.2 L79.7,40.1 L86.5,35.1 L89.0,37.6 L96.5,40.1 L105.3,43.9 L116.6,45.1 L125.4,32.6 L130.4,33.9 L140.4,32.6 L155.5,27.6 L165.0,25.1 L170.0,32.6 L175.0,40.1 L180.0,46.4 L185.1,47.6 L186.3,40.1 L192.6,45.1 L202.6,48.9 L213.9,53.9 L215.2,47.6 L213.9,32.6 L222.7,30.1 L225.2,26.3 L231.4,28.8 L240.2,27.6 L241.5,20.1 L245.2,11.3 L250.3,13.8 L255.3,21.3 L260.3,25.1 L261.5,30.1 L266.6,31.3 L267.8,37.6 L275.3,41.4 L287.9,41.4 L294.1,48.9 L294.1,53.9 L285.4,56.4 L282.9,62.7 L287.9,72.7 L297.9,75.2 L309.2,75.2 L311.7,80.2 L307.9,87.8 L304.2,92.8 L300.4,99.0 L295.4,101.6 L287.9,97.8 L282.9,105.3 L281.6,115.3 L284.1,122.9 L281.6,135.4 L275.3,142.9 L265.3,150.5 L270.3,155.5 L272.8,165.0 L265.3,168.8 L260.3,166.3 L252.8,170.0 L259.0,177.5 L260.3,185.1 L255.3,193.8 L247.7,198.9 L240.2,201.4 L235.2,197.6 L226.4,195.1 L223.9,202.6 L217.7,206.4 L215.2,211.4 L212.6,218.9 L205.1,223.9 L195.1,227.7 L180.0,231.4 L165.0,239.0 L150.5,245.2 L137.9,251.5 L127.9,257.8 L121.6,265.3 L117.9,275.3 L112.8,285.4 L105.3,290.4 L97.8,295.4 L92.8,302.9 L82.7,307.9 L70.2,311.7 L57.7,315.5 L50.2,314.2 L42.6,310.4 L43.9,306.7 L51.4,304.2 L52.7,297.9 L60.2,294.1 L61.4,289.1 L53.9,290.4 L50.2,285.4 L52.7,275.3 L53.9,252.8 L55.2,227.7 L57.2,202.6 L58.9,180.0 L62.0,174.9 L67.5,165.8 L74.8,160.3 L82.0,154.8 L87.5,154.8 L83.9,146.6 L78.4,140.2 L73.8,135.1 L65.6,136.6 L62.0,135.7 L58.3,131.1 L54.7,125.7 L49.2,121.1 L44.7,120.2 L39.2,122.0 L35.5,125.7 L33.7,130.2 L30.1,129.3 L28.2,122.0 L25.5,116.5 L21.9,112.9 L20.0,108.3 L17.3,103.8 L13.7,102.3 L11.3,103.4Z" fill="#fbfaf5" stroke="none"/>
<g mask="url(#mk)">
<g filter="url(#post)">
<g fill="rgb(92,92,92)">
<path d="M0.0,0.0 L330.0,0.0 L330.0,330.0 L0.0,330.0Z"/>
</g>
<g fill="rgb(106,106,106)" filter="url(#b3)">
<ellipse cx="150.5" cy="85.4" rx="52.7" ry="40.1" transform="rotate(0 150.5 85.4)"/>
<ellipse cx="250.8" cy="77.8" rx="32.6" ry="27.6" transform="rotate(0 250.8 77.8)"/>
<ellipse cx="100.3" cy="238.3" rx="42.6" ry="42.6" transform="rotate(0 100.3 238.3)"/>
<ellipse cx="165.5" cy="218.3" rx="27.6" ry="17.6" transform="rotate(0 165.5 218.3)"/>
<ellipse cx="135.4" cy="148.1" rx="20.1" ry="30.1" transform="rotate(0 135.4 148.1)"/>
<ellipse cx="220.7" cy="198.2" rx="17.6" ry="14.0" transform="rotate(0 220.7 198.2)"/>
</g>
<g fill="rgb(78,78,78)" filter="url(#b2.5)">
<ellipse cx="145.4" cy="41.7" rx="27.6" ry="6.0" transform="rotate(-8 145.4 41.7)"/>
<ellipse cx="240.7" cy="35.2" rx="20.1" ry="7.0" transform="rotate(0 240.7 35.2)"/>
<ellipse cx="280.8" cy="102.9" rx="20.1" ry="12.5" transform="rotate(0 280.8 102.9)"/>
</g>
<g fill="rgb(64,64,64)" filter="url(#b3)">
<ellipse cx="65.2" cy="105.4" rx="50.2" ry="25.1" transform="rotate(0 65.2 105.4)"/>
<ellipse cx="100.3" cy="87.9" rx="15.0" ry="25.1" transform="rotate(0 100.3 87.9)"/>
<ellipse cx="92.8" cy="52.8" rx="16.0" ry="20.1" transform="rotate(0 92.8 52.8)"/>
</g>
<g fill="rgb(35,35,35)" filter="url(#b2.5)">
<ellipse cx="55.2" cy="100.4" rx="30.1" ry="14.0" transform="rotate(0 55.2 100.4)"/>
<ellipse cx="30.1" cy="92.9" rx="12.5" ry="7.5" transform="rotate(0 30.1 92.9)"/>
<ellipse cx="75.2" cy="123.0" rx="20.1" ry="7.5" transform="rotate(0 75.2 123.0)"/>
</g>
<g fill="rgb(64,64,64)" filter="url(#b3)">
<ellipse cx="228.2" cy="140.5" rx="47.6" ry="32.6" transform="rotate(0 228.2 140.5)"/>
<ellipse cx="170.5" cy="175.6" rx="45.1" ry="20.1" transform="rotate(15 170.5 175.6)"/>
<ellipse cx="195.6" cy="128.0" rx="25.1" ry="25.1" transform="rotate(0 195.6 128.0)"/>
<ellipse cx="200.6" cy="193.2" rx="12.5" ry="15.0" transform="rotate(0 200.6 193.2)"/>
</g>
<g fill="rgb(35,35,35)" filter="url(#b2.5)">
<ellipse cx="230.7" cy="140.5" rx="37.6" ry="24.1" transform="rotate(0 230.7 140.5)"/>
<ellipse cx="168.0" cy="175.6" rx="35.1" ry="12.5" transform="rotate(18 168.0 175.6)"/>
<ellipse cx="198.1" cy="195.7" rx="6.0" ry="9.0" transform="rotate(0 198.1 195.7)"/>
<ellipse cx="218.2" cy="90.4" rx="7.0" ry="14.0" transform="rotate(0 218.2 90.4)"/>
<ellipse cx="165.5" cy="110.4" rx="10.0" ry="6.0" transform="rotate(0 165.5 110.4)"/>
<ellipse cx="250.8" cy="20.2" rx="10.0" ry="7.5" transform="rotate(0 250.8 20.2)"/>
</g>
<g fill="rgb(21,21,21)" filter="url(#b2)">
<ellipse cx="235.7" cy="148.1" rx="17.6" ry="10.0" transform="rotate(0 235.7 148.1)"/>
<ellipse cx="150.5" cy="170.6" rx="12.5" ry="6.0" transform="rotate(0 150.5 170.6)"/>
</g>
<g fill="rgb(135,135,135)" filter="url(#b3)">
<ellipse cx="136.4" cy="72.8" rx="21.1" ry="27.6" transform="rotate(-15 136.4 72.8)"/>
<ellipse cx="122.9" cy="123.0" rx="11.0" ry="16.0" transform="rotate(0 122.9 123.0)"/>
<ellipse cx="248.2" cy="90.4" rx="19.1" ry="8.0" transform="rotate(-10 248.2 90.4)"/>
<ellipse cx="260.8" cy="71.8" rx="8.0" ry="8.0" transform="rotate(0 260.8 71.8)"/>
<ellipse cx="132.6" cy="123.7" rx="12.7" ry="18.3" transform="rotate(0 132.6 123.7)"/>
</g>
<g fill="rgb(163,163,163)" filter="url(#b2)">
<ellipse cx="124.1" cy="73.5" rx="5.6" ry="7.3" transform="rotate(0 124.1 73.5)"/>
<ellipse cx="146.7" cy="56.0" rx="6.2" ry="4.5" transform="rotate(0 146.7 56.0)"/>
<ellipse cx="121.3" cy="111.0" rx="3.4" ry="4.5" transform="rotate(0 121.3 111.0)"/>
</g>
<g fill="rgb(135,135,135)" filter="url(#b2)">
<ellipse cx="152.3" cy="226.1" rx="6.8" ry="5.6" transform="rotate(0 152.3 226.1)"/>
<ellipse cx="56.4" cy="264.2" rx="5.6" ry="5.1" transform="rotate(0 56.4 264.2)"/>
<ellipse cx="245.4" cy="189.4" rx="7.3" ry="5.6" transform="rotate(0 245.4 189.4)"/>
</g>
<g fill="rgb(78,78,78)" filter="url(#b2)">
<ellipse cx="163.6" cy="41.9" rx="7.1" ry="6.2" transform="rotate(0 163.6 41.9)"/>
<ellipse cx="194.6" cy="59.4" rx="5.1" ry="6.2" transform="rotate(0 194.6 59.4)"/>
<ellipse cx="255.3" cy="84.2" rx="5.1" ry="4.5" transform="rotate(0 255.3 84.2)"/>
<ellipse cx="129.8" cy="214.8" rx="11.8" ry="11.3" transform="rotate(0 129.8 214.8)"/>
<ellipse cx="84.6" cy="223.2" rx="6.2" ry="5.6" transform="rotate(0 84.6 223.2)"/>
<ellipse cx="107.2" cy="252.9" rx="7.3" ry="7.9" transform="rotate(0 107.2 252.9)"/>
<ellipse cx="76.2" cy="261.3" rx="4.5" ry="4.5" transform="rotate(0 76.2 261.3)"/>
<ellipse cx="73.3" cy="295.2" rx="12.7" ry="11.3" transform="rotate(0 73.3 295.2)"/>
<ellipse cx="66.3" cy="188.0" rx="14.1" ry="22.6" transform="rotate(0 66.3 188.0)"/>
<ellipse cx="237.0" cy="169.7" rx="16.9" ry="8.5" transform="rotate(0 237.0 169.7)"/>
<ellipse cx="56.4" cy="233.1" rx="3.9" ry="7.1" transform="rotate(0 56.4 233.1)"/>
</g>
<g fill="rgb(50,50,50)" filter="url(#b1.5)">
<ellipse cx="164.2" cy="42.5" rx="3.4" ry="2.8" transform="rotate(0 164.2 42.5)"/>
<ellipse cx="129.8" cy="214.8" rx="6.8" ry="6.2" transform="rotate(0 129.8 214.8)"/>
<ellipse cx="73.9" cy="295.7" rx="5.6" ry="5.1" transform="rotate(0 73.9 295.7)"/>
<ellipse cx="67.7" cy="188.0" rx="9.9" ry="16.9" transform="rotate(0 67.7 188.0)"/>
<ellipse cx="239.8" cy="168.2" rx="9.9" ry="5.1" transform="rotate(0 239.8 168.2)"/>
<ellipse cx="194.6" cy="59.4" rx="2.3" ry="2.8" transform="rotate(0 194.6 59.4)"/>
</g>
<g fill="rgb(21,21,21)" filter="url(#b1)">
<ellipse cx="129.8" cy="214.8" rx="2.8" ry="2.8" transform="rotate(0 129.8 214.8)"/>
</g>
</g>
<g fill="#fbfaf5" filter="url(#jag)">
<path d="M63.5,89.9 L70.5,81.4 L79.0,78.6 L82.4,87.0 L79.0,98.3 L76.2,106.2 L69.1,98.3 L63.5,96.9Z"/>
<ellipse cx="45.1" cy="112.4" rx="3.4" ry="2.8" transform="rotate(0 45.1 112.4)"/>
<ellipse cx="95.1" cy="116.7" rx="2.8" ry="2.0" transform="rotate(-20 95.1 116.7)"/>
<path d="M28.2,112.4 L33.9,113.8 L36.7,132.2 L31.6,132.2Z"/>
<path d="M18.3,102.6 L25.4,106.8 L26.8,111.0 L21.2,109.6Z"/>
<path d="M277.9,47.6 L287.7,43.3 L293.4,51.8 L285.5,56.0 L279.8,53.8Z"/>
<path d="M59.8,173.9 L70.5,176.7 L76.7,185.2 L73.9,193.6 L66.3,199.8 L58.7,197.0Z"/>
</g>
<g fill="none" stroke="#e6a48c" stroke-width="0.8" opacity="0.7">
<path d="M260.8,50.2 L245.7,70.2 L230.7,82.7 L215.6,100.3 L190.6,107.8 L178.0,112.8 L168.0,127.9 L163.0,145.4 L170.5,165.5 L193.1,193.1 L185.6,205.6 L160.5,223.2 L155.5,235.7 L127.9,240.7 L95.3,245.7 L80.2,270.8 L75.2,293.4"/>
<path d="M87.0,62.0 L100.0,75.0 L115.0,95.0 L130.0,115.0 L150.0,135.0 L163.0,147.0"/>
<path d="M30.0,108.0 L47.0,112.0 L60.0,118.0 L80.0,135.0"/>
<path d="M66.0,81.0 L76.0,75.0 L87.0,62.0"/>
<path d="M260.8,50.2 L250.8,37.6 L240.7,27.6"/>
</g>
<rect x="42.6" y="110.3" width="7.4" height="5.6" rx="1.6" fill="#f4f3f4" stroke="#9a98a6" stroke-width="0.6" opacity="0.55"/>
<text x="46.3" y="114.9" font-size="4.6" text-anchor="middle" fill="#777" opacity="0.55">80</text>
<g font-family="'Liberation Serif', serif" fill="#8a86b0" opacity="0.2">
<text x="92.8" y="62.2" font-size="9.5" font-family="'Liberation Sans', sans-serif">Châu Đốc</text>
<text x="125.4" y="77.7" font-size="9.5" letter-spacing="1.3">ĐỒNG</text>
<text x="129" y="87" font-size="9.5" letter-spacing="1.3">THÁP</text>
<text x="187.6" y="67.7" font-size="10" letter-spacing="1.3">LONG AN</text>
<text x="62.7" y="96.5" font-size="10" letter-spacing="1.3">AN GIANG</text>
<text x="79" y="111.6" font-size="9.5" font-family="'Liberation Sans', sans-serif">Long Xuyên</text>
<text x="143" y="114" font-size="9.5" font-family="'Liberation Sans', sans-serif">Vĩnh Long</text>
<text x="182.5" y="101.5" font-size="8" letter-spacing="1.3">TIỀN GIANG</text>
<text x="221.4" y="115.3" font-size="9.5" font-family="'Liberation Sans', sans-serif">Mỹ Tho</text>
<text x="186.3" y="134" font-size="9.5" letter-spacing="1.3">VĨNH</text>
<text x="186.3" y="143" font-size="9.5" letter-spacing="1.3">LONG</text>
<text x="231.4" y="138" font-size="8" letter-spacing="1.3">BẾN TRE</text>
<text x="130.4" y="138" font-size="9.5" letter-spacing="1.3">CẦN</text>
<text x="133" y="148" font-size="9.5" letter-spacing="1.3">THƠ</text>
<text x="167.5" y="154" font-size="9.5" font-family="'Liberation Sans', sans-serif">Cần Thơ</text>
<text x="225" y="165" font-size="9.5" letter-spacing="1.3">TRÀ</text>
<text x="221.4" y="175" font-size="9.5" letter-spacing="1.3">VINH</text>
<text x="97.8" y="156.7" font-size="9.5" letter-spacing="1.3">KIÊN</text>
<text x="94" y="166.5" font-size="9.5" letter-spacing="1.3">GIANG</text>
<text x="136.7" y="177.5" font-size="8" letter-spacing="1.3">HẬU</text>
<text x="131.6" y="185" font-size="8" letter-spacing="1.3">GIANG</text>
<text x="196.3" y="193.8" font-size="9.5" font-family="'Liberation Sans', sans-serif">Sóc Trăng</text>
<text x="149.2" y="205" font-size="9.5" letter-spacing="1.3">SÓC TRĂNG</text>
<text x="117.9" y="220" font-size="8.5" letter-spacing="1.3">BẠC</text>
<text x="117.9" y="228" font-size="8.5" letter-spacing="1.3">LIÊU</text>
<text x="62.7" y="241.5" font-size="9.5" font-family="'Liberation Sans', sans-serif">Cà Mau</text>
<text x="125.4" y="240" font-size="9.5" font-family="'Liberation Sans', sans-serif">Bạc Liêu</text>
<text x="62.7" y="271.5" font-size="10.5" letter-spacing="1.3">CÀ MAU</text>
</g>
</g>
<mask id="om4" maskUnits="userSpaceOnUse" x="-10" y="-10" width="350" height="350"><g fill="#fff" stroke="#fff" stroke-width="3" filter="url(#jag)"><path d="M63.5,89.9 L70.5,81.4 L79.0,78.6 L82.4,87.0 L79.0,98.3 L76.2,106.2 L69.1,98.3 L63.5,96.9Z"/><ellipse cx="45.1" cy="112.4" rx="3.4" ry="2.8" transform="rotate(0 45.1 112.4)"/><ellipse cx="95.1" cy="116.7" rx="2.8" ry="2.0" transform="rotate(-20 95.1 116.7)"/><path d="M28.2,112.4 L33.9,113.8 L36.7,132.2 L31.6,132.2Z"/><path d="M18.3,102.6 L25.4,106.8 L26.8,111.0 L21.2,109.6Z"/><path d="M277.9,47.6 L287.7,43.3 L293.4,51.8 L285.5,56.0 L279.8,53.8Z"/><path d="M59.8,173.9 L70.5,176.7 L76.7,185.2 L73.9,193.6 L66.3,199.8 L58.7,197.0Z"/></g></mask>
<path d="M11.3,97.9 L14.6,97.0 L17.3,98.7 L20.0,94.7 L23.7,91.9 L26.4,87.4 L29.2,84.6 L35.5,83.7 L41.9,84.6 L51.0,85.5 L61.1,85.5 L64.7,81.9 L69.3,74.6 L74.8,70.0 L82.0,66.4 L86.6,62.7 L87.0,60.2 L81.5,50.2 L79.7,40.1 L86.5,35.1 L89.0,37.6 L96.5,40.1 L105.3,43.9 L116.6,45.1 L125.4,32.6 L130.4,33.9 L140.4,32.6 L155.5,27.6 L165.0,25.1 L170.0,32.6 L175.0,40.1 L180.0,46.4 L185.1,47.6 L186.3,40.1 L192.6,45.1 L202.6,48.9 L213.9,53.9 L215.2,47.6 L213.9,32.6 L222.7,30.1 L225.2,26.3 L231.4,28.8 L240.2,27.6 L241.5,20.1 L245.2,11.3 L250.3,13.8 L255.3,21.3 L260.3,25.1 L261.5,30.1 L266.6,31.3 L267.8,37.6 L275.3,41.4 L287.9,41.4 L294.1,48.9 L294.1,53.9 L285.4,56.4 L282.9,62.7 L287.9,72.7 L297.9,75.2 L309.2,75.2 L311.7,80.2 L307.9,87.8 L304.2,92.8 L300.4,99.0 L295.4,101.6 L287.9,97.8 L282.9,105.3 L281.6,115.3 L284.1,122.9 L281.6,135.4 L275.3,142.9 L265.3,150.5 L270.3,155.5 L272.8,165.0 L265.3,168.8 L260.3,166.3 L252.8,170.0 L259.0,177.5 L260.3,185.1 L255.3,193.8 L247.7,198.9 L240.2,201.4 L235.2,197.6 L226.4,195.1 L223.9,202.6 L217.7,206.4 L215.2,211.4 L212.6,218.9 L205.1,223.9 L195.1,227.7 L180.0,231.4 L165.0,239.0 L150.5,245.2 L137.9,251.5 L127.9,257.8 L121.6,265.3 L117.9,275.3 L112.8,285.4 L105.3,290.4 L97.8,295.4 L92.8,302.9 L82.7,307.9 L70.2,311.7 L57.7,315.5 L50.2,314.2 L42.6,310.4 L43.9,306.7 L51.4,304.2 L52.7,297.9 L60.2,294.1 L61.4,289.1 L53.9,290.4 L50.2,285.4 L52.7,275.3 L53.9,252.8 L55.2,227.7 L57.2,202.6 L58.9,180.0 L62.0,174.9 L67.5,165.8 L74.8,160.3 L82.0,154.8 L87.5,154.8 L83.9,146.6 L78.4,140.2 L73.8,135.1 L65.6,136.6 L62.0,135.7 L58.3,131.1 L54.7,125.7 L49.2,121.1 L44.7,120.2 L39.2,122.0 L35.5,125.7 L33.7,130.2 L30.1,129.3 L28.2,122.0 L25.5,116.5 L21.9,112.9 L20.0,108.3 L17.3,103.8 L13.7,102.3 L11.3,103.4Z" fill="none" stroke="#6a6a6a" stroke-width="0.9" stroke-linejoin="round" mask="url(#om4)"/>
<text x="196.1" y="245" font-size="7.4" text-anchor="middle" fill="#000">N</text>
<path d="M196.1,247.3 L189.9,267 L196.1,260.6Z" fill="#000" stroke="#000" stroke-width="0.5" stroke-linejoin="miter"/>
<path d="M196.1,247.3 L202.2,267 L196.1,260.6Z" fill="#fff" stroke="#000" stroke-width="0.6" stroke-linejoin="miter"/>
<rect x="142" y="285.2" width="85.4" height="5.9" fill="#000"/>
<rect x="153.2" y="286" width="10.1" height="4.3" fill="#fff"/>
<rect x="174.3" y="286" width="10.1" height="4.3" fill="#fff"/>
<g font-size="6.3" text-anchor="middle" fill="#000">
<text x="142.3" y="282.5">0</text>
<text x="163.5" y="282.5">20</text>
<text x="184.4" y="282.5">40</text>
<text x="226.6" y="282.5">80</text>
<text x="237.7" y="282.5">km</text>
</g>
<text x="35.400000000000034" y="47.89999999999998" font-size="21" letter-spacing="0.3" fill="#000">n22</text>
</g>
<g transform="translate(648.2,330.1)">
<path d="M11.3,97.9 L14.6,97.0 L17.3,98.7 L20.0,94.7 L23.7,91.9 L26.4,87.4 L29.2,84.6 L35.5,83.7 L41.9,84.6 L51.0,85.5 L61.1,85.5 L64.7,81.9 L69.3,74.6 L74.8,70.0 L82.0,66.4 L86.6,62.7 L87.0,60.2 L81.5,50.2 L79.7,40.1 L86.5,35.1 L89.0,37.6 L96.5,40.1 L105.3,43.9 L116.6,45.1 L125.4,32.6 L130.4,33.9 L140.4,32.6 L155.5,27.6 L165.0,25.1 L170.0,32.6 L175.0,40.1 L180.0,46.4 L185.1,47.6 L186.3,40.1 L192.6,45.1 L202.6,48.9 L213.9,53.9 L215.2,47.6 L213.9,32.6 L222.7,30.1 L225.2,26.3 L231.4,28.8 L240.2,27.6 L241.5,20.1 L245.2,11.3 L250.3,13.8 L255.3,21.3 L260.3,25.1 L261.5,30.1 L266.6,31.3 L267.8,37.6 L275.3,41.4 L287.9,41.4 L294.1,48.9 L294.1,53.9 L285.4,56.4 L282.9,62.7 L287.9,72.7 L297.9,75.2 L309.2,75.2 L311.7,80.2 L307.9,87.8 L304.2,92.8 L300.4,99.0 L295.4,101.6 L287.9,97.8 L282.9,105.3 L281.6,115.3 L284.1,122.9 L281.6,135.4 L275.3,142.9 L265.3,150.5 L270.3,155.5 L272.8,165.0 L265.3,168.8 L260.3,166.3 L252.8,170.0 L259.0,177.5 L260.3,185.1 L255.3,193.8 L247.7,198.9 L240.2,201.4 L235.2,197.6 L226.4,195.1 L223.9,202.6 L217.7,206.4 L215.2,211.4 L212.6,218.9 L205.1,223.9 L195.1,227.7 L180.0,231.4 L165.0,239.0 L150.5,245.2 L137.9,251.5 L127.9,257.8 L121.6,265.3 L117.9,275.3 L112.8,285.4 L105.3,290.4 L97.8,295.4 L92.8,302.9 L82.7,307.9 L70.2,311.7 L57.7,315.5 L50.2,314.2 L42.6,310.4 L43.9,306.7 L51.4,304.2 L52.7,297.9 L60.2,294.1 L61.4,289.1 L53.9,290.4 L50.2,285.4 L52.7,275.3 L53.9,252.8 L55.2,227.7 L57.2,202.6 L58.9,180.0 L62.0,174.9 L67.5,165.8 L74.8,160.3 L82.0,154.8 L87.5,154.8 L83.9,146.6 L78.4,140.2 L73.8,135.1 L65.6,136.6 L62.0,135.7 L58.3,131.1 L54.7,125.7 L49.2,121.1 L44.7,120.2 L39.2,122.0 L35.5,125.7 L33.7,130.2 L30.1,129.3 L28.2,122.0 L25.5,116.5 L21.9,112.9 L20.0,108.3 L17.3,103.8 L13.7,102.3 L11.3,103.4Z" fill="#fbfaf5" stroke="none"/>
<g mask="url(#mk)">
<g filter="url(#post)">
<g fill="rgb(64,64,64)">
<path d="M0.0,0.0 L330.0,0.0 L330.0,330.0 L0.0,330.0Z"/>
</g>
<g fill="rgb(92,92,92)" filter="url(#b3)">
<ellipse cx="120.2" cy="125.9" rx="47.6" ry="36.1" transform="rotate(0 120.2 125.9)"/>
<ellipse cx="210.4" cy="78.2" rx="75.2" ry="45.1" transform="rotate(0 210.4 78.2)"/>
<ellipse cx="156.8" cy="208.1" rx="25.1" ry="21.1" transform="rotate(0 156.8 208.1)"/>
<ellipse cx="100.1" cy="233.7" rx="20.1" ry="15.0" transform="rotate(0 100.1 233.7)"/>
<ellipse cx="107.6" cy="276.3" rx="17.6" ry="12.5" transform="rotate(0 107.6 276.3)"/>
<ellipse cx="150.3" cy="163.5" rx="22.6" ry="20.1" transform="rotate(0 150.3 163.5)"/>
</g>
<g fill="rgb(35,35,35)" filter="url(#b3)">
<ellipse cx="250.6" cy="158.5" rx="35.1" ry="42.6" transform="rotate(10 250.6 158.5)"/>
<ellipse cx="220.5" cy="188.6" rx="20.1" ry="20.1" transform="rotate(0 220.5 188.6)"/>
<ellipse cx="295.7" cy="85.8" rx="17.6" ry="15.0" transform="rotate(0 295.7 85.8)"/>
<ellipse cx="107.6" cy="182.1" rx="22.6" ry="19.1" transform="rotate(0 107.6 182.1)"/>
<ellipse cx="85.1" cy="293.9" rx="15.0" ry="20.1" transform="rotate(0 85.1 293.9)"/>
<ellipse cx="195.4" cy="178.5" rx="15.0" ry="12.5" transform="rotate(0 195.4 178.5)"/>
</g>
<g fill="rgb(7,7,7)" filter="url(#b2)">
<ellipse cx="255.6" cy="148.5" rx="15.0" ry="22.6" transform="rotate(0 255.6 148.5)"/>
<ellipse cx="87.6" cy="298.9" rx="7.5" ry="12.5" transform="rotate(0 87.6 298.9)"/>
</g>
<g fill="rgb(120,120,120)" filter="url(#b2.5)">
<ellipse cx="112.6" cy="112.8" rx="12.7" ry="12.7" transform="rotate(0 112.6 112.8)"/>
<ellipse cx="163.4" cy="50.8" rx="9.9" ry="14.1" transform="rotate(0 163.4 50.8)"/>
<ellipse cx="200.6" cy="79.0" rx="10.7" ry="10.2" transform="rotate(0 200.6 79.0)"/>
<ellipse cx="191.6" cy="110.6" rx="13.5" ry="10.7" transform="rotate(0 191.6 110.6)"/>
<ellipse cx="228.9" cy="48.0" rx="10.2" ry="17.5" transform="rotate(0 228.9 48.0)"/>
<ellipse cx="245.8" cy="98.7" rx="12.7" ry="11.3" transform="rotate(0 245.8 98.7)"/>
<ellipse cx="152.1" cy="36.7" rx="14.1" ry="7.1" transform="rotate(0 152.1 36.7)"/>
<ellipse cx="140.8" cy="126.9" rx="11.3" ry="8.5" transform="rotate(0 140.8 126.9)"/>
</g>
<g fill="rgb(149,149,149)" filter="url(#b2)">
<ellipse cx="112.6" cy="114.2" rx="6.2" ry="6.2" transform="rotate(0 112.6 114.2)"/>
<ellipse cx="189.4" cy="110.6" rx="6.8" ry="5.1" transform="rotate(0 189.4 110.6)"/>
<ellipse cx="244.7" cy="99.3" rx="6.8" ry="6.2" transform="rotate(0 244.7 99.3)"/>
<ellipse cx="200.6" cy="79.5" rx="4.5" ry="4.5" transform="rotate(0 200.6 79.5)"/>
<ellipse cx="228.3" cy="45.1" rx="3.9" ry="8.5" transform="rotate(0 228.3 45.1)"/>
</g>
<g fill="rgb(106,106,106)" filter="url(#b2)">
<ellipse cx="159.3" cy="211.1" rx="14.0" ry="12.0" transform="rotate(0 159.3 211.1)"/>
</g>
<g fill="rgb(120,120,120)" filter="url(#b1.5)">
<ellipse cx="164.3" cy="219.2" rx="5.0" ry="4.5" transform="rotate(0 164.3 219.2)"/>
</g>
<g fill="rgb(92,92,92)" filter="url(#b2)">
<ellipse cx="146.5" cy="174.3" rx="19.7" ry="11.3" transform="rotate(0 146.5 174.3)"/>
<ellipse cx="107.0" cy="254.7" rx="11.3" ry="9.9" transform="rotate(0 107.0 254.7)"/>
<ellipse cx="78.8" cy="250.4" rx="6.2" ry="6.2" transform="rotate(0 78.8 250.4)"/>
</g>
<g fill="rgb(35,35,35)" filter="url(#b1.5)">
<ellipse cx="180.9" cy="63.5" rx="7.3" ry="5.6" transform="rotate(0 180.9 63.5)"/>
<ellipse cx="218.4" cy="83.8" rx="5.1" ry="5.1" transform="rotate(0 218.4 83.8)"/>
<ellipse cx="252.3" cy="42.3" rx="3.9" ry="3.9" transform="rotate(0 252.3 42.3)"/>
<ellipse cx="132.4" cy="144.4" rx="5.6" ry="6.2" transform="rotate(0 132.4 144.4)"/>
<ellipse cx="169.6" cy="121.3" rx="5.6" ry="5.6" transform="rotate(0 169.6 121.3)"/>
<ellipse cx="108.4" cy="232.1" rx="4.2" ry="4.2" transform="rotate(0 108.4 232.1)"/>
<ellipse cx="186.0" cy="191.2" rx="11.8" ry="9.0" transform="rotate(0 186.0 191.2)"/>
<ellipse cx="228.3" cy="179.9" rx="31.0" ry="19.7" transform="rotate(0 228.3 179.9)"/>
<ellipse cx="101.4" cy="187.0" rx="22.6" ry="15.5" transform="rotate(0 101.4 187.0)"/>
<ellipse cx="81.6" cy="292.8" rx="9.0" ry="16.9" transform="rotate(0 81.6 292.8)"/>
<ellipse cx="296.0" cy="84.6" rx="14.1" ry="14.1" transform="rotate(0 296.0 84.6)"/>
</g>
<g fill="rgb(7,7,7)" filter="url(#b1)">
<ellipse cx="180.9" cy="63.5" rx="2.8" ry="2.3" transform="rotate(0 180.9 63.5)"/>
<ellipse cx="218.4" cy="83.8" rx="2.3" ry="2.3" transform="rotate(0 218.4 83.8)"/>
<ellipse cx="132.4" cy="144.4" rx="2.3" ry="2.5" transform="rotate(0 132.4 144.4)"/>
</g>
</g>
<g fill="#fbfaf5" filter="url(#jag)">
<path d="M6.0,95.9 L28.0,79.8 L66.4,76.2 L77.7,33.9 L92.9,29.9 L114.9,41.7 L118.8,56.4 L114.0,67.7 L123.9,63.5 L132.4,67.7 L131.0,79.5 L118.3,85.2 L109.8,79.5 L101.4,71.1 L92.9,68.3 L82.2,79.5 L76.5,93.1 L70.3,107.2 L67.5,124.7 L60.4,128.9 L30.8,132.6 L22.4,112.8 L6.9,105.8Z"/>
<ellipse cx="144.2" cy="86.3" rx="3.9" ry="5.6" transform="rotate(-25 144.2 86.3)"/>
<ellipse cx="166.2" cy="108.6" rx="5.1" ry="3.1" transform="rotate(-15 166.2 108.6)"/>
<ellipse cx="94.9" cy="116.2" rx="4.2" ry="2.0" transform="rotate(-10 94.9 116.2)"/>
<ellipse cx="154.1" cy="97.3" rx="2.3" ry="1.7" transform="rotate(0 154.1 97.3)"/>
<ellipse cx="273.4" cy="93.7" rx="2.8" ry="8.5" transform="rotate(15 273.4 93.7)"/>
<ellipse cx="285.3" cy="73.9" rx="5.6" ry="3.9" transform="rotate(20 285.3 73.9)"/>
<ellipse cx="271.2" cy="52.8" rx="3.9" ry="2.8" transform="rotate(0 271.2 52.8)"/>
<path d="M57.6,171.5 L92.9,174.3 L90.1,182.7 L78.8,188.4 L69.8,198.3 L66.4,219.4 L63.6,236.3 L61.9,256.1 L59.0,275.8 L56.2,287.7 L50.6,287.7 L52.0,247.6 L54.8,205.3Z"/>
</g>
<g fill="none" stroke="#e6a48c" stroke-width="0.8" opacity="0.7">
<path d="M260.8,50.2 L245.7,70.2 L230.7,82.7 L215.6,100.3 L190.6,107.8 L178.0,112.8 L168.0,127.9 L163.0,145.4 L170.5,165.5 L193.1,193.1 L185.6,205.6 L160.5,223.2 L155.5,235.7 L127.9,240.7 L95.3,245.7 L80.2,270.8 L75.2,293.4"/>
<path d="M87.0,62.0 L100.0,75.0 L115.0,95.0 L130.0,115.0 L150.0,135.0 L163.0,147.0"/>
<path d="M30.0,108.0 L47.0,112.0 L60.0,118.0 L80.0,135.0"/>
<path d="M66.0,81.0 L76.0,75.0 L87.0,62.0"/>
<path d="M260.8,50.2 L250.8,37.6 L240.7,27.6"/>
</g>
<rect x="42.6" y="110.3" width="7.4" height="5.6" rx="1.6" fill="#f4f3f4" stroke="#9a98a6" stroke-width="0.6" opacity="0.55"/>
<text x="46.3" y="114.9" font-size="4.6" text-anchor="middle" fill="#777" opacity="0.55">80</text>
<g font-family="'Liberation Serif', serif" fill="#8a86b0" opacity="0.2">
<text x="92.8" y="62.2" font-size="9.5" font-family="'Liberation Sans', sans-serif">Châu Đốc</text>
<text x="125.4" y="77.7" font-size="9.5" letter-spacing="1.3">ĐỒNG</text>
<text x="129" y="87" font-size="9.5" letter-spacing="1.3">THÁP</text>
<text x="187.6" y="67.7" font-size="10" letter-spacing="1.3">LONG AN</text>
<text x="62.7" y="96.5" font-size="10" letter-spacing="1.3">AN GIANG</text>
<text x="79" y="111.6" font-size="9.5" font-family="'Liberation Sans', sans-serif">Long Xuyên</text>
<text x="143" y="114" font-size="9.5" font-family="'Liberation Sans', sans-serif">Vĩnh Long</text>
<text x="182.5" y="101.5" font-size="8" letter-spacing="1.3">TIỀN GIANG</text>
<text x="221.4" y="115.3" font-size="9.5" font-family="'Liberation Sans', sans-serif">Mỹ Tho</text>
<text x="186.3" y="134" font-size="9.5" letter-spacing="1.3">VĨNH</text>
<text x="186.3" y="143" font-size="9.5" letter-spacing="1.3">LONG</text>
<text x="231.4" y="138" font-size="8" letter-spacing="1.3">BẾN TRE</text>
<text x="130.4" y="138" font-size="9.5" letter-spacing="1.3">CẦN</text>
<text x="133" y="148" font-size="9.5" letter-spacing="1.3">THƠ</text>
<text x="167.5" y="154" font-size="9.5" font-family="'Liberation Sans', sans-serif">Cần Thơ</text>
<text x="225" y="165" font-size="9.5" letter-spacing="1.3">TRÀ</text>
<text x="221.4" y="175" font-size="9.5" letter-spacing="1.3">VINH</text>
<text x="97.8" y="156.7" font-size="9.5" letter-spacing="1.3">KIÊN</text>
<text x="94" y="166.5" font-size="9.5" letter-spacing="1.3">GIANG</text>
<text x="136.7" y="177.5" font-size="8" letter-spacing="1.3">HẬU</text>
<text x="131.6" y="185" font-size="8" letter-spacing="1.3">GIANG</text>
<text x="196.3" y="193.8" font-size="9.5" font-family="'Liberation Sans', sans-serif">Sóc Trăng</text>
<text x="149.2" y="205" font-size="9.5" letter-spacing="1.3">SÓC TRĂNG</text>
<text x="117.9" y="220" font-size="8.5" letter-spacing="1.3">BẠC</text>
<text x="117.9" y="228" font-size="8.5" letter-spacing="1.3">LIÊU</text>
<text x="62.7" y="241.5" font-size="9.5" font-family="'Liberation Sans', sans-serif">Cà Mau</text>
<text x="125.4" y="240" font-size="9.5" font-family="'Liberation Sans', sans-serif">Bạc Liêu</text>
<text x="62.7" y="271.5" font-size="10.5" letter-spacing="1.3">CÀ MAU</text>
</g>
</g>
<mask id="om5" maskUnits="userSpaceOnUse" x="-10" y="-10" width="350" height="350"><g fill="#fff" stroke="#fff" stroke-width="3" filter="url(#jag)"><path d="M6.0,95.9 L28.0,79.8 L66.4,76.2 L77.7,33.9 L92.9,29.9 L114.9,41.7 L118.8,56.4 L114.0,67.7 L123.9,63.5 L132.4,67.7 L131.0,79.5 L118.3,85.2 L109.8,79.5 L101.4,71.1 L92.9,68.3 L82.2,79.5 L76.5,93.1 L70.3,107.2 L67.5,124.7 L60.4,128.9 L30.8,132.6 L22.4,112.8 L6.9,105.8Z"/><ellipse cx="144.2" cy="86.3" rx="3.9" ry="5.6" transform="rotate(-25 144.2 86.3)"/><ellipse cx="166.2" cy="108.6" rx="5.1" ry="3.1" transform="rotate(-15 166.2 108.6)"/><ellipse cx="94.9" cy="116.2" rx="4.2" ry="2.0" transform="rotate(-10 94.9 116.2)"/><ellipse cx="154.1" cy="97.3" rx="2.3" ry="1.7" transform="rotate(0 154.1 97.3)"/><ellipse cx="273.4" cy="93.7" rx="2.8" ry="8.5" transform="rotate(15 273.4 93.7)"/><ellipse cx="285.3" cy="73.9" rx="5.6" ry="3.9" transform="rotate(20 285.3 73.9)"/><ellipse cx="271.2" cy="52.8" rx="3.9" ry="2.8" transform="rotate(0 271.2 52.8)"/><path d="M57.6,171.5 L92.9,174.3 L90.1,182.7 L78.8,188.4 L69.8,198.3 L66.4,219.4 L63.6,236.3 L61.9,256.1 L59.0,275.8 L56.2,287.7 L50.6,287.7 L52.0,247.6 L54.8,205.3Z"/></g></mask>
<path d="M11.3,97.9 L14.6,97.0 L17.3,98.7 L20.0,94.7 L23.7,91.9 L26.4,87.4 L29.2,84.6 L35.5,83.7 L41.9,84.6 L51.0,85.5 L61.1,85.5 L64.7,81.9 L69.3,74.6 L74.8,70.0 L82.0,66.4 L86.6,62.7 L87.0,60.2 L81.5,50.2 L79.7,40.1 L86.5,35.1 L89.0,37.6 L96.5,40.1 L105.3,43.9 L116.6,45.1 L125.4,32.6 L130.4,33.9 L140.4,32.6 L155.5,27.6 L165.0,25.1 L170.0,32.6 L175.0,40.1 L180.0,46.4 L185.1,47.6 L186.3,40.1 L192.6,45.1 L202.6,48.9 L213.9,53.9 L215.2,47.6 L213.9,32.6 L222.7,30.1 L225.2,26.3 L231.4,28.8 L240.2,27.6 L241.5,20.1 L245.2,11.3 L250.3,13.8 L255.3,21.3 L260.3,25.1 L261.5,30.1 L266.6,31.3 L267.8,37.6 L275.3,41.4 L287.9,41.4 L294.1,48.9 L294.1,53.9 L285.4,56.4 L282.9,62.7 L287.9,72.7 L297.9,75.2 L309.2,75.2 L311.7,80.2 L307.9,87.8 L304.2,92.8 L300.4,99.0 L295.4,101.6 L287.9,97.8 L282.9,105.3 L281.6,115.3 L284.1,122.9 L281.6,135.4 L275.3,142.9 L265.3,150.5 L270.3,155.5 L272.8,165.0 L265.3,168.8 L260.3,166.3 L252.8,170.0 L259.0,177.5 L260.3,185.1 L255.3,193.8 L247.7,198.9 L240.2,201.4 L235.2,197.6 L226.4,195.1 L223.9,202.6 L217.7,206.4 L215.2,211.4 L212.6,218.9 L205.1,223.9 L195.1,227.7 L180.0,231.4 L165.0,239.0 L150.5,245.2 L137.9,251.5 L127.9,257.8 L121.6,265.3 L117.9,275.3 L112.8,285.4 L105.3,290.4 L97.8,295.4 L92.8,302.9 L82.7,307.9 L70.2,311.7 L57.7,315.5 L50.2,314.2 L42.6,310.4 L43.9,306.7 L51.4,304.2 L52.7,297.9 L60.2,294.1 L61.4,289.1 L53.9,290.4 L50.2,285.4 L52.7,275.3 L53.9,252.8 L55.2,227.7 L57.2,202.6 L58.9,180.0 L62.0,174.9 L67.5,165.8 L74.8,160.3 L82.0,154.8 L87.5,154.8 L83.9,146.6 L78.4,140.2 L73.8,135.1 L65.6,136.6 L62.0,135.7 L58.3,131.1 L54.7,125.7 L49.2,121.1 L44.7,120.2 L39.2,122.0 L35.5,125.7 L33.7,130.2 L30.1,129.3 L28.2,122.0 L25.5,116.5 L21.9,112.9 L20.0,108.3 L17.3,103.8 L13.7,102.3 L11.3,103.4Z" fill="none" stroke="#6a6a6a" stroke-width="0.9" stroke-linejoin="round" mask="url(#om5)"/>
<text x="196.1" y="245" font-size="7.4" text-anchor="middle" fill="#000">N</text>
<path d="M196.1,247.3 L189.9,267 L196.1,260.6Z" fill="#000" stroke="#000" stroke-width="0.5" stroke-linejoin="miter"/>
<path d="M196.1,247.3 L202.2,267 L196.1,260.6Z" fill="#fff" stroke="#000" stroke-width="0.6" stroke-linejoin="miter"/>
<rect x="142" y="285.2" width="85.4" height="5.9" fill="#000"/>
<rect x="153.2" y="286" width="10.1" height="4.3" fill="#fff"/>
<rect x="174.3" y="286" width="10.1" height="4.3" fill="#fff"/>
<g font-size="6.3" text-anchor="middle" fill="#000">
<text x="142.3" y="282.5">0</text>
<text x="163.5" y="282.5">20</text>
<text x="184.4" y="282.5">40</text>
<text x="226.6" y="282.5">80</text>
<text x="237.7" y="282.5">km</text>
</g>
<text x="22.399999999999977" y="48.39999999999998" font-size="21" letter-spacing="0.3" fill="#000">n21</text>
</g>
<rect x="996.5" y="459.8" width="30" height="14.5" fill="url(#vs)" stroke="#6e6e6e" stroke-width="1"/>
<text x="1031.3" y="470.6" font-size="10.2" fill="#000">0 - 1</text>
<rect x="996.5" y="480.0" width="30" height="14.5" fill="#bcb6fc" stroke="#6e6e6e" stroke-width="1"/>
<text x="1031.3" y="490.8" font-size="10.2" fill="#000">1 - 2</text>
<rect x="996.5" y="500.1" width="30" height="14.5" fill="#a799f8" stroke="#6e6e6e" stroke-width="1"/>
<text x="1031.3" y="510.9" font-size="10.2" fill="#000">2 - 5</text>
<rect x="996.5" y="520.3" width="30" height="14.5" fill="#8e80f0" stroke="#6e6e6e" stroke-width="1"/>
<text x="1031.3" y="531.1" font-size="10.2" fill="#000">5 - 10</text>
<rect x="996.5" y="540.5" width="30" height="14.5" fill="#7864f0" stroke="#6e6e6e" stroke-width="1"/>
<text x="1031.3" y="551.3" font-size="10.2" fill="#000">10 - 15</text>
<rect x="996.5" y="560.6" width="30" height="14.5" fill="#6450e8" stroke="#6e6e6e" stroke-width="1"/>
<text x="1031.3" y="571.4" font-size="10.2" fill="#000">15 - 20</text>
<rect x="996.5" y="580.8" width="30" height="14.5" fill="#503ce4" stroke="#6e6e6e" stroke-width="1"/>
<text x="1031.3" y="591.6" font-size="10.2" fill="#000">20 - 25</text>
<rect x="996.5" y="601.0" width="30" height="14.5" fill="url(#dots)" stroke="#6e6e6e" stroke-width="1"/>
<text x="1031.3" y="611.8" font-size="10.2" fill="#000">25 - 30</text>
<rect x="996.5" y="621.2" width="30" height="14.5" fill="#1e0ae1" stroke="#6e6e6e" stroke-width="1"/>
<text x="1031.3" y="632.0" font-size="10.2" fill="#000">&gt; 30</text>
<g font-size="19" fill="#000"><text x="976.2" y="389.5" letter-spacing="0.1">Volume fresh</text><text x="976.2" y="416" letter-spacing="0.36">groundwater</text><text x="976.2" y="441" letter-spacing="-0.08">(TDS&lt; 1g/L) in 10<tspan font-size="12" dy="-7">6</tspan><tspan dy="7"> m</tspan><tspan font-size="12" dy="-7">3</tspan></text></g>
</svg>
</body></html>
